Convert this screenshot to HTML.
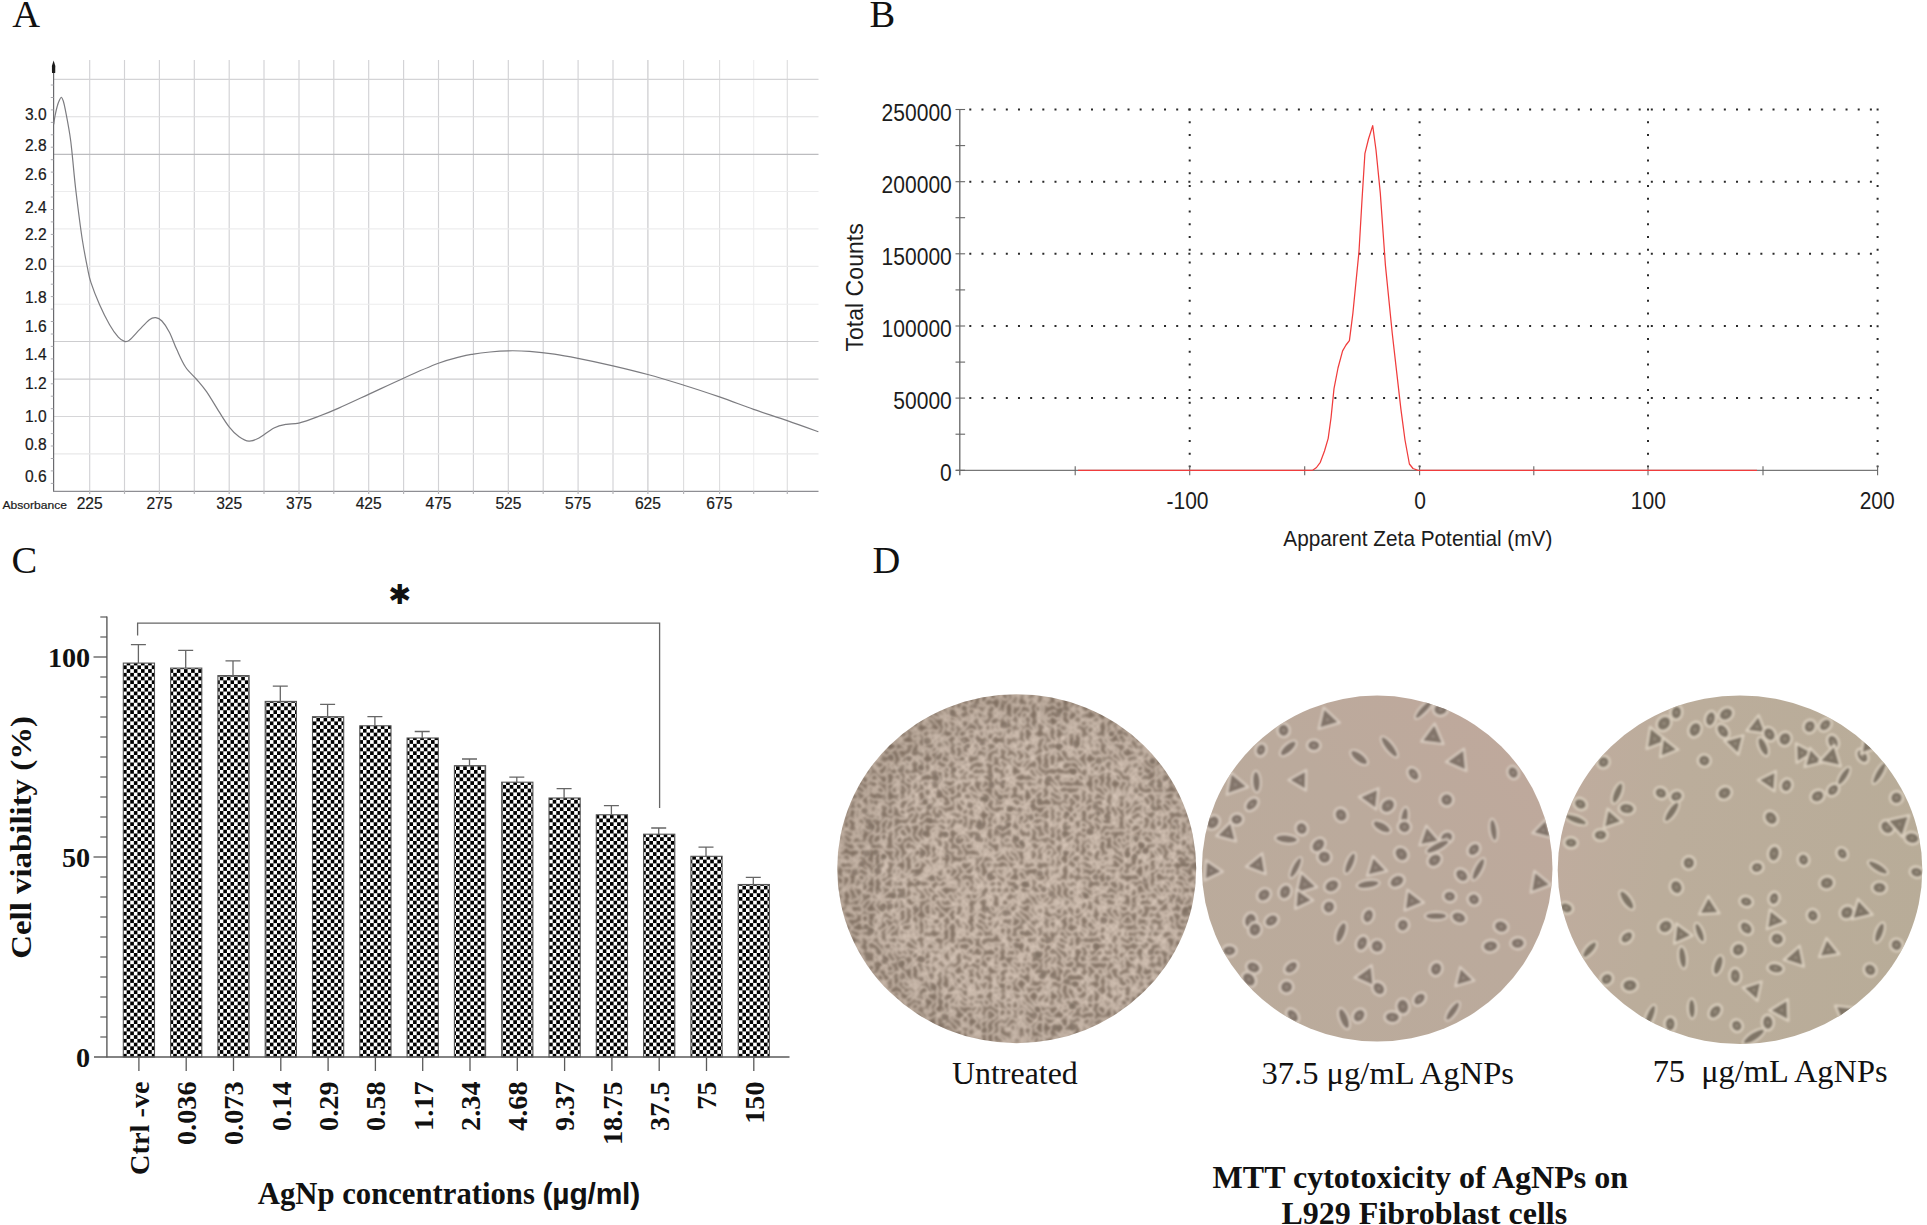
<!DOCTYPE html>
<html><head><meta charset="utf-8"><title>Figure</title>
<style>
html,body{margin:0;padding:0;background:#fff;}
body{width:1927px;height:1225px;overflow:hidden;font-family:"Liberation Serif",serif;}
svg{display:block}
</style></head><body>
<svg width="1927" height="1225" viewBox="0 0 1927 1225">
<defs>
<filter id="blurA" x="-2%" y="-2%" width="104%" height="104%"><feGaussianBlur stdDeviation="0.45"/></filter>
<filter id="blurT" x="-5%" y="-20%" width="110%" height="140%"><feGaussianBlur stdDeviation="0.8"/></filter>
<pattern id="chk" x="123.1" y="882.03" width="7.16" height="7.47" patternUnits="userSpaceOnUse">
<rect width="7.16" height="7.47" fill="#fff"/>
<rect x="0" y="0" width="3.58" height="3.735" fill="#000"/><rect x="3.58" y="3.735" width="3.58" height="3.735" fill="#000"/>
</pattern>
<filter id="blurC" x="-5%" y="-5%" width="110%" height="110%"><feGaussianBlur stdDeviation="0.5"/></filter>
<clipPath id="c1"><ellipse cx="1016.7" cy="868.7" rx="179.5" ry="174.5"/></clipPath>
<clipPath id="c2"><ellipse cx="1377.2" cy="868.6" rx="175.3" ry="173"/></clipPath>
<clipPath id="c3"><ellipse cx="1740" cy="869.8" rx="182.3" ry="174.3"/></clipPath>
<filter id="tex1" x="0" y="0" width="100%" height="100%" color-interpolation-filters="sRGB">
<feTurbulence type="turbulence" baseFrequency="0.16" numOctaves="1" seed="3" result="n"/>
<feColorMatrix in="n" type="matrix" values="1 0 0 0 0  1 0 0 0 0  1 0 0 0 0  0 0 0 0 1"/>
<feComponentTransfer><feFuncR type="table" tableValues="0.845 0.745 0.655 0.595 0.56 0.535 0.52 0.51 0.51 0.51 0.51"/><feFuncG type="table" tableValues="0.78 0.68 0.59 0.53 0.495 0.47 0.455 0.445 0.445 0.445 0.445"/><feFuncB type="table" tableValues="0.725 0.625 0.535 0.475 0.44 0.415 0.40 0.39 0.39 0.39 0.39"/></feComponentTransfer>
<feGaussianBlur stdDeviation="0.8"/>
</filter>
<filter id="blurCell" x="-10%" y="-10%" width="120%" height="120%"><feGaussianBlur stdDeviation="1.05"/></filter>
<linearGradient id="g2" x1="0" y1="1" x2="1" y2="0"><stop offset="0" stop-color="#baab9b"/><stop offset="0.55" stop-color="#bbaa9c"/><stop offset="1" stop-color="#c0a89c"/></linearGradient>
<linearGradient id="g3" x1="0" y1="0.4" x2="1" y2="0.6"><stop offset="0" stop-color="#bfac9e"/><stop offset="0.3" stop-color="#bbad9b"/><stop offset="1" stop-color="#b8ac98"/></linearGradient>
<radialGradient id="g1" cx="0.54" cy="0.52" r="0.5"><stop offset="0" stop-color="#000" stop-opacity="0"/><stop offset="0.8" stop-color="#000" stop-opacity="0.01"/><stop offset="1" stop-color="#3a2a1a" stop-opacity="0.09"/></radialGradient>

</defs>
<rect width="1927" height="1225" fill="#fff"/>
<g font-family="Liberation Serif, serif" font-size="38.5" fill="#111">
<text x="12.3" y="27">A</text>
<text x="869.5" y="26.5">B</text>
<text x="11.5" y="572.5">C</text>
<text x="872.5" y="572.5">D</text>
</g>
<g id="pA" font-family="Liberation Sans, sans-serif" fill="#1a1a1a" stroke="#1a1a1a" stroke-width="0.2">
<g filter="url(#blurA)">
<line x1="89.7" y1="60" x2="89.7" y2="491" stroke="#d2d2d5" stroke-width="1.15"/>
<line x1="124.5" y1="60" x2="124.5" y2="491" stroke="#d2d2d5" stroke-width="1.15"/>
<line x1="159.4" y1="60" x2="159.4" y2="491" stroke="#d2d2d5" stroke-width="1.15"/>
<line x1="194.3" y1="60" x2="194.3" y2="491" stroke="#d2d2d5" stroke-width="1.15"/>
<line x1="229.2" y1="60" x2="229.2" y2="491" stroke="#d2d2d5" stroke-width="1.15"/>
<line x1="264" y1="60" x2="264" y2="491" stroke="#d2d2d5" stroke-width="1.15"/>
<line x1="299" y1="60" x2="299" y2="491" stroke="#d2d2d5" stroke-width="1.15"/>
<line x1="333.8" y1="60" x2="333.8" y2="491" stroke="#d2d2d5" stroke-width="1.15"/>
<line x1="368.7" y1="60" x2="368.7" y2="491" stroke="#d2d2d5" stroke-width="1.15"/>
<line x1="403.6" y1="60" x2="403.6" y2="491" stroke="#d2d2d5" stroke-width="1.15"/>
<line x1="438.5" y1="60" x2="438.5" y2="491" stroke="#d2d2d5" stroke-width="1.15"/>
<line x1="473.4" y1="60" x2="473.4" y2="491" stroke="#d2d2d5" stroke-width="1.15"/>
<line x1="508.3" y1="60" x2="508.3" y2="491" stroke="#d2d2d5" stroke-width="1.15"/>
<line x1="543.2" y1="60" x2="543.2" y2="491" stroke="#d2d2d5" stroke-width="1.15"/>
<line x1="578.1" y1="60" x2="578.1" y2="491" stroke="#d2d2d5" stroke-width="1.15"/>
<line x1="613" y1="60" x2="613" y2="491" stroke="#d2d2d5" stroke-width="1.15"/>
<line x1="647.9" y1="60" x2="647.9" y2="491" stroke="#c8c8cb" stroke-width="1.15"/>
<line x1="683.6" y1="60" x2="683.6" y2="491" stroke="#dededf" stroke-width="1.15"/>
<line x1="719.6" y1="60" x2="719.6" y2="491" stroke="#dededf" stroke-width="1.15"/>
<line x1="753.7" y1="60" x2="753.7" y2="491" stroke="#eeeeef" stroke-width="1.15"/>
<line x1="787.3" y1="60" x2="787.3" y2="491" stroke="#dededf" stroke-width="1.15"/>
<line x1="53.5" y1="79.3" x2="818.5" y2="79.3" stroke="#d4d4d6" stroke-width="1.15"/>
<line x1="53.5" y1="116.7" x2="818.5" y2="116.7" stroke="#dcdcde" stroke-width="1.15"/>
<line x1="53.5" y1="154.4" x2="818.5" y2="154.4" stroke="#bcbcbf" stroke-width="1.15"/>
<line x1="53.5" y1="191.5" x2="818.5" y2="191.5" stroke="#ececed" stroke-width="1.15"/>
<line x1="53.5" y1="228.8" x2="818.5" y2="228.8" stroke="#ededee" stroke-width="1.15"/>
<line x1="53.5" y1="266.3" x2="818.5" y2="266.3" stroke="#eaeaeb" stroke-width="1.15"/>
<line x1="53.5" y1="304.2" x2="818.5" y2="304.2" stroke="#ececed" stroke-width="1.15"/>
<line x1="53.5" y1="341.5" x2="818.5" y2="341.5" stroke="#cdcdcf" stroke-width="1.15"/>
<line x1="53.5" y1="379.1" x2="818.5" y2="379.1" stroke="#cdcdcf" stroke-width="1.15"/>
<line x1="53.5" y1="416.5" x2="818.5" y2="416.5" stroke="#d6d6d8" stroke-width="1.15"/>
<line x1="53.5" y1="453.8" x2="818.5" y2="453.8" stroke="#e8e8e9" stroke-width="1.15"/>
<line x1="53.6" y1="66" x2="53.6" y2="491.5" stroke="#6a6a6e" stroke-width="1.2"/>
<line x1="53" y1="491.3" x2="818.5" y2="491.3" stroke="#8e8e93" stroke-width="1.25"/>
<path d="M53.6 60.5 L55.3 66 L55.2 73 L52 73 L51.9 66 Z" fill="#1a1a1a" stroke="none"/>
<line x1="50.8" y1="85.0" x2="53.5" y2="85.0" stroke="#aaaab0" stroke-width="1"/>
<line x1="50.8" y1="97.5" x2="53.5" y2="97.5" stroke="#aaaab0" stroke-width="1"/>
<line x1="50.8" y1="109.9" x2="53.5" y2="109.9" stroke="#aaaab0" stroke-width="1"/>
<line x1="50.8" y1="122.4" x2="53.5" y2="122.4" stroke="#aaaab0" stroke-width="1"/>
<line x1="50.8" y1="134.8" x2="53.5" y2="134.8" stroke="#aaaab0" stroke-width="1"/>
<line x1="50.8" y1="147.2" x2="53.5" y2="147.2" stroke="#aaaab0" stroke-width="1"/>
<line x1="50.8" y1="159.7" x2="53.5" y2="159.7" stroke="#aaaab0" stroke-width="1"/>
<line x1="50.8" y1="172.1" x2="53.5" y2="172.1" stroke="#aaaab0" stroke-width="1"/>
<line x1="50.8" y1="184.6" x2="53.5" y2="184.6" stroke="#aaaab0" stroke-width="1"/>
<line x1="50.8" y1="197.0" x2="53.5" y2="197.0" stroke="#aaaab0" stroke-width="1"/>
<line x1="50.8" y1="209.5" x2="53.5" y2="209.5" stroke="#aaaab0" stroke-width="1"/>
<line x1="50.8" y1="221.9" x2="53.5" y2="221.9" stroke="#aaaab0" stroke-width="1"/>
<line x1="50.8" y1="234.4" x2="53.5" y2="234.4" stroke="#aaaab0" stroke-width="1"/>
<line x1="50.8" y1="246.8" x2="53.5" y2="246.8" stroke="#aaaab0" stroke-width="1"/>
<line x1="50.8" y1="259.3" x2="53.5" y2="259.3" stroke="#aaaab0" stroke-width="1"/>
<line x1="50.8" y1="271.7" x2="53.5" y2="271.7" stroke="#aaaab0" stroke-width="1"/>
<line x1="50.8" y1="284.2" x2="53.5" y2="284.2" stroke="#aaaab0" stroke-width="1"/>
<line x1="50.8" y1="296.6" x2="53.5" y2="296.6" stroke="#aaaab0" stroke-width="1"/>
<line x1="50.8" y1="309.1" x2="53.5" y2="309.1" stroke="#aaaab0" stroke-width="1"/>
<line x1="50.8" y1="321.5" x2="53.5" y2="321.5" stroke="#aaaab0" stroke-width="1"/>
<line x1="50.8" y1="334.0" x2="53.5" y2="334.0" stroke="#aaaab0" stroke-width="1"/>
<line x1="50.8" y1="346.4" x2="53.5" y2="346.4" stroke="#aaaab0" stroke-width="1"/>
<line x1="50.8" y1="358.9" x2="53.5" y2="358.9" stroke="#aaaab0" stroke-width="1"/>
<line x1="50.8" y1="371.3" x2="53.5" y2="371.3" stroke="#aaaab0" stroke-width="1"/>
<line x1="50.8" y1="383.8" x2="53.5" y2="383.8" stroke="#aaaab0" stroke-width="1"/>
<line x1="50.8" y1="396.2" x2="53.5" y2="396.2" stroke="#aaaab0" stroke-width="1"/>
<line x1="50.8" y1="408.7" x2="53.5" y2="408.7" stroke="#aaaab0" stroke-width="1"/>
<line x1="50.8" y1="421.1" x2="53.5" y2="421.1" stroke="#aaaab0" stroke-width="1"/>
<line x1="50.8" y1="433.6" x2="53.5" y2="433.6" stroke="#aaaab0" stroke-width="1"/>
<line x1="50.8" y1="446.0" x2="53.5" y2="446.0" stroke="#aaaab0" stroke-width="1"/>
<line x1="50.8" y1="458.5" x2="53.5" y2="458.5" stroke="#aaaab0" stroke-width="1"/>
<line x1="50.8" y1="470.9" x2="53.5" y2="470.9" stroke="#aaaab0" stroke-width="1"/>
<line x1="50.8" y1="483.4" x2="53.5" y2="483.4" stroke="#aaaab0" stroke-width="1"/>
<line x1="89.7" y1="491" x2="89.7" y2="494" stroke="#b4b4b8" stroke-width="1.2"/>
<line x1="124.5" y1="491" x2="124.5" y2="494" stroke="#b4b4b8" stroke-width="1.2"/>
<line x1="159.4" y1="491" x2="159.4" y2="494" stroke="#b4b4b8" stroke-width="1.2"/>
<line x1="194.3" y1="491" x2="194.3" y2="494" stroke="#b4b4b8" stroke-width="1.2"/>
<line x1="229.2" y1="491" x2="229.2" y2="494" stroke="#b4b4b8" stroke-width="1.2"/>
<line x1="264" y1="491" x2="264" y2="494" stroke="#b4b4b8" stroke-width="1.2"/>
<line x1="299" y1="491" x2="299" y2="494" stroke="#b4b4b8" stroke-width="1.2"/>
<line x1="333.8" y1="491" x2="333.8" y2="494" stroke="#b4b4b8" stroke-width="1.2"/>
<line x1="368.7" y1="491" x2="368.7" y2="494" stroke="#b4b4b8" stroke-width="1.2"/>
<line x1="403.6" y1="491" x2="403.6" y2="494" stroke="#b4b4b8" stroke-width="1.2"/>
<line x1="438.5" y1="491" x2="438.5" y2="494" stroke="#b4b4b8" stroke-width="1.2"/>
<line x1="473.4" y1="491" x2="473.4" y2="494" stroke="#b4b4b8" stroke-width="1.2"/>
<line x1="508.3" y1="491" x2="508.3" y2="494" stroke="#b4b4b8" stroke-width="1.2"/>
<line x1="543.2" y1="491" x2="543.2" y2="494" stroke="#b4b4b8" stroke-width="1.2"/>
<line x1="578.1" y1="491" x2="578.1" y2="494" stroke="#b4b4b8" stroke-width="1.2"/>
<line x1="613" y1="491" x2="613" y2="494" stroke="#b4b4b8" stroke-width="1.2"/>
<line x1="647.9" y1="491" x2="647.9" y2="494" stroke="#b4b4b8" stroke-width="1.2"/>
<line x1="683.6" y1="491" x2="683.6" y2="494" stroke="#b4b4b8" stroke-width="1.2"/>
<line x1="719.6" y1="491" x2="719.6" y2="494" stroke="#b4b4b8" stroke-width="1.2"/>
<line x1="753.7" y1="491" x2="753.7" y2="494" stroke="#b4b4b8" stroke-width="1.2"/>
<line x1="787.3" y1="491" x2="787.3" y2="494" stroke="#b4b4b8" stroke-width="1.2"/>
<path d="M53.7 124.5 C53.9 123.1 54.4 119.1 55.0 116.0 C55.6 112.9 56.5 108.7 57.3 106.0 C58.0 103.3 58.8 101.5 59.5 100.0 C60.2 98.5 60.8 97.1 61.4 97.3 C62.0 97.5 62.6 99.0 63.3 101.0 C63.9 103.0 64.2 104.0 65.3 109.6 C66.4 115.2 68.6 127.0 69.8 134.5 C71.0 142.0 71.2 144.8 72.2 154.4 C73.2 164.0 74.3 177.7 76.0 191.8 C77.7 205.9 80.3 226.6 82.2 239.0 C84.1 251.4 85.8 259.3 87.2 266.5 C88.7 273.7 88.8 276.0 90.9 282.4 C93.0 288.8 96.5 297.8 99.6 304.8 C102.7 311.9 106.5 319.3 109.6 324.7 C112.7 330.1 115.8 334.4 118.3 337.2 C120.8 340.0 122.6 340.9 124.5 341.4 C126.4 341.9 127.0 342.1 129.5 340.1 C132.0 338.2 136.2 333.1 139.5 329.7 C142.8 326.3 146.7 321.7 149.4 319.7 C152.1 317.7 153.6 317.5 155.7 317.7 C157.8 317.9 159.6 318.6 161.9 321.0 C164.2 323.4 166.9 327.4 169.4 332.2 C171.9 337.0 174.1 343.8 176.8 349.6 C179.5 355.4 182.2 362.0 185.5 367.0 C188.8 372.0 193.2 375.4 196.7 379.5 C200.2 383.6 202.9 386.5 206.7 391.9 C210.4 397.3 215.5 406.1 219.2 411.9 C222.9 417.7 225.8 422.6 229.1 426.8 C232.4 431.0 235.8 434.4 239.1 436.8 C242.4 439.2 245.7 441.0 249.0 441.2 C252.3 441.4 254.8 440.2 259.0 438.0 C263.2 435.8 269.4 430.3 274.0 428.0 C278.6 425.7 282.2 425.1 286.4 424.3 C290.5 423.5 293.5 424.4 298.9 423.1 C304.3 421.8 312.2 418.8 318.8 416.3 C325.4 413.8 330.4 411.8 338.7 408.1 C347.0 404.5 357.8 399.4 368.6 394.4 C379.4 389.4 391.9 383.4 403.5 378.2 C415.1 373.0 428.8 366.9 438.4 363.3 C447.9 359.7 454.9 358.1 460.8 356.6 C466.7 355.1 468.6 354.9 473.5 354.1 C478.4 353.3 484.2 352.6 490.0 352.0 C495.8 351.4 501.7 350.9 508.3 350.8 C514.9 350.7 521.8 350.8 529.5 351.3 C537.2 351.9 546.3 352.9 554.4 354.1 C562.5 355.3 568.2 356.4 578.0 358.3 C587.8 360.2 601.3 363.1 612.9 365.8 C624.5 368.5 636.0 371.3 647.8 374.5 C659.6 377.7 671.9 381.5 683.9 385.2 C695.9 388.9 707.9 392.9 719.5 396.9 C731.1 400.9 742.3 405.4 753.6 409.4 C764.9 413.3 776.4 416.9 787.2 420.6 C798.0 424.3 813.2 429.9 818.4 431.8" fill="none" stroke="#7c7c80" stroke-width="1.2" stroke-linejoin="round"/>
</g>
<g font-size="15.6" text-anchor="end">
<text x="46.6" y="119.6">3.0</text>
<text x="46.6" y="151.4">2.8</text>
<text x="46.6" y="180">2.6</text>
<text x="46.6" y="212.6">2.4</text>
<text x="46.6" y="240.2">2.2</text>
<text x="46.6" y="270.2">2.0</text>
<text x="46.6" y="303">1.8</text>
<text x="46.6" y="332.4">1.6</text>
<text x="46.6" y="360.3">1.4</text>
<text x="46.6" y="389.4">1.2</text>
<text x="46.6" y="422">1.0</text>
<text x="46.6" y="450.4">0.8</text>
<text x="46.6" y="481.7">0.6</text>
</g>
<g font-size="15.6" text-anchor="middle">
<text x="89.7" y="508.6">225</text>
<text x="159.4" y="508.6">275</text>
<text x="229.2" y="508.6">325</text>
<text x="299" y="508.6">375</text>
<text x="368.7" y="508.6">425</text>
<text x="438.5" y="508.6">475</text>
<text x="508.4" y="508.6">525</text>
<text x="578.1" y="508.6">575</text>
<text x="647.9" y="508.6">625</text>
<text x="719.3" y="508.6">675</text>
</g>
<text x="2.5" y="509.3" font-size="11.2" textLength="64.5" lengthAdjust="spacingAndGlyphs">Absorbance</text>
</g>
<g id="pB" font-family="Liberation Sans, sans-serif" fill="#1c1c1c">
<line x1="969.3" y1="109.5" x2="1878.8" y2="109.5" stroke="#2a2a2a" stroke-width="2.0" stroke-dasharray="2.0 10.17"/>
<line x1="969.3" y1="181.7" x2="1878.8" y2="181.7" stroke="#2a2a2a" stroke-width="2.0" stroke-dasharray="2.0 10.17"/>
<line x1="969.3" y1="253.8" x2="1878.8" y2="253.8" stroke="#2a2a2a" stroke-width="2.0" stroke-dasharray="2.0 10.17"/>
<line x1="969.3" y1="326" x2="1878.8" y2="326" stroke="#2a2a2a" stroke-width="2.0" stroke-dasharray="2.0 10.17"/>
<line x1="969.3" y1="398.1" x2="1878.8" y2="398.1" stroke="#2a2a2a" stroke-width="2.0" stroke-dasharray="2.0 10.17"/>
<line x1="1189.7" y1="108.4" x2="1189.7" y2="467.3" stroke="#2a2a2a" stroke-width="2.0" stroke-dasharray="2.0 10.75"/>
<line x1="1419.6" y1="108.4" x2="1419.6" y2="467.3" stroke="#2a2a2a" stroke-width="2.0" stroke-dasharray="2.0 10.75"/>
<line x1="1648" y1="108.4" x2="1648" y2="467.3" stroke="#2a2a2a" stroke-width="2.0" stroke-dasharray="2.0 10.75"/>
<line x1="1877.6" y1="108.4" x2="1877.6" y2="467.3" stroke="#2a2a2a" stroke-width="2.0" stroke-dasharray="2.0 10.75"/>
<line x1="959.8" y1="109.5" x2="959.8" y2="475.3" stroke="#666" stroke-width="1.3"/>
<line x1="955.8" y1="470.3" x2="1877.6" y2="470.3" stroke="#777" stroke-width="1.3"/>
<line x1="955.5" y1="109.5" x2="965.0999999999999" y2="109.5" stroke="#666" stroke-width="1.1"/>
<line x1="955.5" y1="145.6" x2="965.0999999999999" y2="145.6" stroke="#666" stroke-width="1.1"/>
<line x1="955.5" y1="181.7" x2="965.0999999999999" y2="181.7" stroke="#666" stroke-width="1.1"/>
<line x1="955.5" y1="217.7" x2="965.0999999999999" y2="217.7" stroke="#666" stroke-width="1.1"/>
<line x1="955.5" y1="253.8" x2="965.0999999999999" y2="253.8" stroke="#666" stroke-width="1.1"/>
<line x1="955.5" y1="289.9" x2="965.0999999999999" y2="289.9" stroke="#666" stroke-width="1.1"/>
<line x1="955.5" y1="326.0" x2="965.0999999999999" y2="326.0" stroke="#666" stroke-width="1.1"/>
<line x1="955.5" y1="362.1" x2="965.0999999999999" y2="362.1" stroke="#666" stroke-width="1.1"/>
<line x1="955.5" y1="398.1" x2="965.0999999999999" y2="398.1" stroke="#666" stroke-width="1.1"/>
<line x1="955.5" y1="434.2" x2="965.0999999999999" y2="434.2" stroke="#666" stroke-width="1.1"/>
<line x1="955.5" y1="470.3" x2="965.0999999999999" y2="470.3" stroke="#666" stroke-width="1.1"/>
<line x1="1075.2" y1="466.3" x2="1075.2" y2="475.3" stroke="#666" stroke-width="1.1"/>
<line x1="1189.7" y1="466.3" x2="1189.7" y2="475.3" stroke="#666" stroke-width="1.1"/>
<line x1="1304.7" y1="466.3" x2="1304.7" y2="475.3" stroke="#666" stroke-width="1.1"/>
<line x1="1419.6" y1="466.3" x2="1419.6" y2="475.3" stroke="#666" stroke-width="1.1"/>
<line x1="1533.8" y1="466.3" x2="1533.8" y2="475.3" stroke="#666" stroke-width="1.1"/>
<line x1="1648" y1="466.3" x2="1648" y2="475.3" stroke="#666" stroke-width="1.1"/>
<line x1="1763" y1="466.3" x2="1763" y2="475.3" stroke="#666" stroke-width="1.1"/>
<line x1="1877.6" y1="466.3" x2="1877.6" y2="475.3" stroke="#666" stroke-width="1.1"/>
<path d="M1078 470.3 L1310 470.3 L1312.7 470.2 L1316.5 467.5 L1320.3 462.3 L1324.5 451 L1328.2 438.3 L1331 418 L1334 388.6 L1338 368 L1342.6 350.9 L1346 345 L1349.4 340.6 L1352.9 313.1 L1359 251.4 L1362 200 L1364.9 153.7 L1368.5 139 L1372.7 125.6 L1376 150 L1380.3 193.1 L1385.4 265.1 L1392.3 333.7 L1400.9 409.1 L1405 440 L1409.4 464 L1413 468.5 L1418 470.3 L1757 470.3" fill="none" stroke="#f03c3c" stroke-width="1.25" stroke-linejoin="round"/>
<text transform="translate(951.8 120.5) scale(0.895 1)" font-size="23.5" text-anchor="end">250000</text>
<text transform="translate(951.8 192.7) scale(0.895 1)" font-size="23.5" text-anchor="end">200000</text>
<text transform="translate(951.8 264.8) scale(0.895 1)" font-size="23.5" text-anchor="end">150000</text>
<text transform="translate(951.8 337.0) scale(0.895 1)" font-size="23.5" text-anchor="end">100000</text>
<text transform="translate(951.8 409.1) scale(0.895 1)" font-size="23.5" text-anchor="end">50000</text>
<text transform="translate(951.8 481.3) scale(0.895 1)" font-size="23.5" text-anchor="end">0</text>
<text transform="translate(1187.5 508.8) scale(0.895 1)" font-size="23.5" text-anchor="middle">-100</text>
<text transform="translate(1420.0 508.8) scale(0.895 1)" font-size="23.5" text-anchor="middle">0</text>
<text transform="translate(1648.4 508.8) scale(0.895 1)" font-size="23.5" text-anchor="middle">100</text>
<text transform="translate(1877.2 508.8) scale(0.895 1)" font-size="23.5" text-anchor="middle">200</text>
<text transform="translate(1417.8 545.8) scale(0.912 1)" font-size="22.8" text-anchor="middle">Apparent Zeta Potential (mV)</text>
<text transform="translate(863.2 287.4) rotate(-90)" font-size="23.1" text-anchor="middle">Total Counts</text>
</g>
<g id="pC" font-family="Liberation Serif, serif" font-weight="bold" fill="#111">
<g filter="url(#blurC)">
<rect x="123.3" y="663.1" width="31.2" height="393.9" fill="url(#chk)" stroke="#555" stroke-width="1.1"/>
<path d="M138.4 663.1 V644.7 M130.9 644.7 H145.9" stroke="#666" stroke-width="1.3" fill="none"/>
<rect x="170.6" y="668.1" width="31.2" height="388.9" fill="url(#chk)" stroke="#555" stroke-width="1.1"/>
<path d="M185.7 668.1 V650.4 M178.2 650.4 H193.2" stroke="#666" stroke-width="1.3" fill="none"/>
<rect x="217.9" y="675.6" width="31.2" height="381.4" fill="url(#chk)" stroke="#555" stroke-width="1.1"/>
<path d="M233.0 675.6 V660.8 M225.5 660.8 H240.5" stroke="#666" stroke-width="1.3" fill="none"/>
<rect x="265.2" y="701.4" width="31.2" height="355.6" fill="url(#chk)" stroke="#555" stroke-width="1.1"/>
<path d="M280.3 701.4 V686.1 M272.8 686.1 H287.8" stroke="#666" stroke-width="1.3" fill="none"/>
<rect x="312.5" y="716.7" width="31.2" height="340.3" fill="url(#chk)" stroke="#555" stroke-width="1.1"/>
<path d="M327.6 716.7 V704.3 M320.1 704.3 H335.1" stroke="#666" stroke-width="1.3" fill="none"/>
<rect x="359.8" y="725.8" width="31.2" height="331.2" fill="url(#chk)" stroke="#555" stroke-width="1.1"/>
<path d="M374.9 725.8 V716.7 M367.4 716.7 H382.4" stroke="#666" stroke-width="1.3" fill="none"/>
<rect x="407.1" y="738.0" width="31.2" height="319.0" fill="url(#chk)" stroke="#555" stroke-width="1.1"/>
<path d="M422.2 738.0 V731.5 M414.7 731.5 H429.7" stroke="#666" stroke-width="1.3" fill="none"/>
<rect x="454.4" y="765.7" width="31.2" height="291.3" fill="url(#chk)" stroke="#555" stroke-width="1.1"/>
<path d="M469.5 765.7 V759 M462.0 759 H477.0" stroke="#666" stroke-width="1.3" fill="none"/>
<rect x="501.7" y="782.2" width="31.2" height="274.8" fill="url(#chk)" stroke="#555" stroke-width="1.1"/>
<path d="M516.8 782.2 V777.2 M509.3 777.2 H524.3" stroke="#666" stroke-width="1.3" fill="none"/>
<rect x="549.0" y="798" width="31.2" height="259.0" fill="url(#chk)" stroke="#555" stroke-width="1.1"/>
<path d="M564.1 798 V788.7 M556.6 788.7 H571.6" stroke="#666" stroke-width="1.3" fill="none"/>
<rect x="596.3" y="814.8" width="31.2" height="242.2" fill="url(#chk)" stroke="#555" stroke-width="1.1"/>
<path d="M611.4 814.8 V805.7 M603.9 805.7 H618.9" stroke="#666" stroke-width="1.3" fill="none"/>
<rect x="643.6" y="834.2" width="31.2" height="222.8" fill="url(#chk)" stroke="#555" stroke-width="1.1"/>
<path d="M658.7 834.2 V828 M651.2 828 H666.2" stroke="#666" stroke-width="1.3" fill="none"/>
<rect x="690.9" y="856.3" width="31.2" height="200.7" fill="url(#chk)" stroke="#555" stroke-width="1.1"/>
<path d="M706.0 856.3 V847.1 M698.5 847.1 H713.5" stroke="#666" stroke-width="1.3" fill="none"/>
<rect x="738.2" y="884.5" width="31.2" height="172.5" fill="url(#chk)" stroke="#555" stroke-width="1.1"/>
<path d="M753.3 884.5 V877.4 M745.8 877.4 H760.8" stroke="#666" stroke-width="1.3" fill="none"/>
</g>
<line x1="106.9" y1="616.5" x2="106.9" y2="1057.6" stroke="#5a5a5a" stroke-width="1.4"/>
<line x1="94" y1="1057" x2="789.5" y2="1057" stroke="#5a5a5a" stroke-width="1.4"/>
<line x1="100.3" y1="1037" x2="107" y2="1037" stroke="#5a5a5a" stroke-width="1.2"/>
<line x1="100.3" y1="1017" x2="107" y2="1017" stroke="#5a5a5a" stroke-width="1.2"/>
<line x1="100.3" y1="997" x2="107" y2="997" stroke="#5a5a5a" stroke-width="1.2"/>
<line x1="100.3" y1="977" x2="107" y2="977" stroke="#5a5a5a" stroke-width="1.2"/>
<line x1="100.3" y1="957" x2="107" y2="957" stroke="#5a5a5a" stroke-width="1.2"/>
<line x1="100.3" y1="937" x2="107" y2="937" stroke="#5a5a5a" stroke-width="1.2"/>
<line x1="100.3" y1="917" x2="107" y2="917" stroke="#5a5a5a" stroke-width="1.2"/>
<line x1="100.3" y1="897" x2="107" y2="897" stroke="#5a5a5a" stroke-width="1.2"/>
<line x1="100.3" y1="877" x2="107" y2="877" stroke="#5a5a5a" stroke-width="1.2"/>
<line x1="93.5" y1="857" x2="107" y2="857" stroke="#5a5a5a" stroke-width="1.3"/>
<line x1="100.3" y1="837" x2="107" y2="837" stroke="#5a5a5a" stroke-width="1.2"/>
<line x1="100.3" y1="817" x2="107" y2="817" stroke="#5a5a5a" stroke-width="1.2"/>
<line x1="100.3" y1="797" x2="107" y2="797" stroke="#5a5a5a" stroke-width="1.2"/>
<line x1="100.3" y1="777" x2="107" y2="777" stroke="#5a5a5a" stroke-width="1.2"/>
<line x1="100.3" y1="757" x2="107" y2="757" stroke="#5a5a5a" stroke-width="1.2"/>
<line x1="100.3" y1="737" x2="107" y2="737" stroke="#5a5a5a" stroke-width="1.2"/>
<line x1="100.3" y1="717" x2="107" y2="717" stroke="#5a5a5a" stroke-width="1.2"/>
<line x1="100.3" y1="697" x2="107" y2="697" stroke="#5a5a5a" stroke-width="1.2"/>
<line x1="100.3" y1="677" x2="107" y2="677" stroke="#5a5a5a" stroke-width="1.2"/>
<line x1="93.5" y1="657" x2="107" y2="657" stroke="#5a5a5a" stroke-width="1.3"/>
<line x1="100.3" y1="637" x2="107" y2="637" stroke="#5a5a5a" stroke-width="1.2"/>
<line x1="100.3" y1="617" x2="107" y2="617" stroke="#5a5a5a" stroke-width="1.2"/>
<line x1="138.9" y1="1057" x2="138.9" y2="1071" stroke="#5a5a5a" stroke-width="1.3"/>
<line x1="186.2" y1="1057" x2="186.2" y2="1071" stroke="#5a5a5a" stroke-width="1.3"/>
<line x1="233.5" y1="1057" x2="233.5" y2="1071" stroke="#5a5a5a" stroke-width="1.3"/>
<line x1="280.8" y1="1057" x2="280.8" y2="1071" stroke="#5a5a5a" stroke-width="1.3"/>
<line x1="328.1" y1="1057" x2="328.1" y2="1071" stroke="#5a5a5a" stroke-width="1.3"/>
<line x1="375.4" y1="1057" x2="375.4" y2="1071" stroke="#5a5a5a" stroke-width="1.3"/>
<line x1="422.7" y1="1057" x2="422.7" y2="1071" stroke="#5a5a5a" stroke-width="1.3"/>
<line x1="470.0" y1="1057" x2="470.0" y2="1071" stroke="#5a5a5a" stroke-width="1.3"/>
<line x1="517.3" y1="1057" x2="517.3" y2="1071" stroke="#5a5a5a" stroke-width="1.3"/>
<line x1="564.6" y1="1057" x2="564.6" y2="1071" stroke="#5a5a5a" stroke-width="1.3"/>
<line x1="611.9" y1="1057" x2="611.9" y2="1071" stroke="#5a5a5a" stroke-width="1.3"/>
<line x1="659.2" y1="1057" x2="659.2" y2="1071" stroke="#5a5a5a" stroke-width="1.3"/>
<line x1="706.5" y1="1057" x2="706.5" y2="1071" stroke="#5a5a5a" stroke-width="1.3"/>
<line x1="753.8" y1="1057" x2="753.8" y2="1071" stroke="#5a5a5a" stroke-width="1.3"/>
<path d="M137.6 635.5 V623.2 H659.6 V808" fill="none" stroke="#666" stroke-width="1.3"/>
<text x="90.2" y="667.4" font-size="28.2" text-anchor="end">100</text>
<text x="90.2" y="867.4" font-size="28.2" text-anchor="end">50</text>
<text x="90.2" y="1067.4" font-size="28.2" text-anchor="end">0</text>
<text transform="translate(148.7 1081.4) rotate(-90)" font-size="28.3" text-anchor="end">Ctrl -ve</text>
<text transform="translate(196.0 1081.4) rotate(-90)" font-size="28.3" text-anchor="end">0.036</text>
<text transform="translate(243.3 1081.4) rotate(-90)" font-size="28.3" text-anchor="end">0.073</text>
<text transform="translate(290.6 1081.4) rotate(-90)" font-size="28.3" text-anchor="end">0.14</text>
<text transform="translate(337.9 1081.4) rotate(-90)" font-size="28.3" text-anchor="end">0.29</text>
<text transform="translate(385.2 1081.4) rotate(-90)" font-size="28.3" text-anchor="end">0.58</text>
<text transform="translate(432.5 1081.4) rotate(-90)" font-size="28.3" text-anchor="end">1.17</text>
<text transform="translate(479.8 1081.4) rotate(-90)" font-size="28.3" text-anchor="end">2.34</text>
<text transform="translate(527.1 1081.4) rotate(-90)" font-size="28.3" text-anchor="end">4.68</text>
<text transform="translate(574.4 1081.4) rotate(-90)" font-size="28.3" text-anchor="end">9.37</text>
<text transform="translate(621.7 1081.4) rotate(-90)" font-size="28.3" text-anchor="end">18.75</text>
<text transform="translate(669.0 1081.4) rotate(-90)" font-size="28.3" text-anchor="end">37.5</text>
<text transform="translate(716.3 1081.4) rotate(-90)" font-size="28.3" text-anchor="end">75</text>
<text transform="translate(763.6 1081.4) rotate(-90)" font-size="28.3" text-anchor="end">150</text>
<text transform="translate(30.7 837.4) rotate(-90) scale(1.085 1)" font-size="30.3" text-anchor="middle">Cell viability (%)</text>
<text x="257.8" y="1204" font-size="30.7">AgNp concentrations <tspan font-family="Liberation Sans, sans-serif" font-size="30" letter-spacing="-0.2">(µg/ml)</tspan></text>
<text x="399.4" y="604.3" font-family="DejaVu Sans, sans-serif" font-size="27.5" text-anchor="middle">✱</text>
</g>
<g id="pD">
<g clip-path="url(#c1)"><rect x="836" y="693" width="362" height="352" filter="url(#tex1)"/><rect x="836" y="693" width="362" height="352" fill="url(#g1)"/>
<g filter="url(#blurCell)" fill="#7d6f62" fill-opacity="0.75">
<circle cx="890.0" cy="906.6" r="3.3"/>
<circle cx="893.4" cy="894.9" r="2.9"/>
<circle cx="1067.3" cy="981.5" r="3.0"/>
<circle cx="1031.2" cy="817.8" r="2.6"/>
<circle cx="1150.9" cy="952.2" r="3.0"/>
<circle cx="1186.2" cy="913.0" r="3.4"/>
<circle cx="937.8" cy="757.6" r="2.4"/>
<circle cx="1144.9" cy="880.5" r="2.3"/>
<circle cx="1048.7" cy="947.4" r="2.2"/>
<circle cx="902.1" cy="894.3" r="3.2"/>
<circle cx="876.0" cy="852.2" r="2.8"/>
<circle cx="954.1" cy="769.5" r="2.5"/>
<circle cx="1193.5" cy="866.2" r="3.2"/>
<circle cx="990.6" cy="775.5" r="2.5"/>
<circle cx="1005.3" cy="912.9" r="3.1"/>
<circle cx="884.6" cy="961.4" r="2.7"/>
<circle cx="1174.1" cy="827.4" r="2.2"/>
<circle cx="1059.0" cy="1027.6" r="2.8"/>
<circle cx="1127.5" cy="855.4" r="2.3"/>
<circle cx="909.3" cy="758.4" r="2.5"/>
<circle cx="1103.9" cy="920.3" r="3.4"/>
<circle cx="1019.8" cy="809.7" r="2.5"/>
<circle cx="1051.6" cy="893.7" r="3.2"/>
<circle cx="1074.9" cy="984.3" r="2.7"/>
<circle cx="1071.9" cy="1005.7" r="2.4"/>
<circle cx="979.3" cy="822.6" r="2.7"/>
<circle cx="1038.0" cy="955.6" r="3.4"/>
<circle cx="1048.9" cy="779.1" r="3.3"/>
<circle cx="1043.9" cy="973.4" r="3.2"/>
<circle cx="981.4" cy="826.3" r="3.4"/>
<circle cx="1037.3" cy="953.8" r="3.1"/>
<circle cx="970.8" cy="951.0" r="2.3"/>
<circle cx="1130.8" cy="939.1" r="2.5"/>
<circle cx="929.8" cy="806.4" r="2.7"/>
<circle cx="1135.9" cy="838.3" r="2.9"/>
<circle cx="1067.3" cy="814.0" r="2.4"/>
<circle cx="1151.1" cy="784.1" r="2.5"/>
<circle cx="1073.0" cy="1006.1" r="3.3"/>
<circle cx="1073.6" cy="1027.0" r="3.3"/>
<circle cx="925.2" cy="801.1" r="2.3"/>
<circle cx="1185.4" cy="909.3" r="2.5"/>
<circle cx="991.4" cy="785.0" r="3.2"/>
<circle cx="937.8" cy="815.6" r="2.4"/>
<circle cx="1008.1" cy="824.4" r="2.5"/>
<circle cx="864.4" cy="810.8" r="2.9"/>
<circle cx="984.7" cy="1030.5" r="2.4"/>
<circle cx="1108.1" cy="878.0" r="2.7"/>
<circle cx="1085.8" cy="895.5" r="2.6"/>
<circle cx="958.9" cy="841.4" r="2.6"/>
<circle cx="1152.5" cy="760.9" r="3.0"/>
<circle cx="967.8" cy="746.1" r="2.4"/>
<circle cx="1039.8" cy="873.7" r="3.3"/>
<circle cx="964.0" cy="707.9" r="2.2"/>
<circle cx="936.0" cy="778.5" r="3.1"/>
<circle cx="942.4" cy="1024.8" r="2.3"/>
<circle cx="870.9" cy="826.5" r="3.3"/>
<circle cx="1004.7" cy="724.9" r="3.2"/>
<circle cx="1107.2" cy="816.8" r="3.0"/>
<circle cx="1151.0" cy="775.0" r="2.7"/>
<circle cx="1058.2" cy="714.0" r="2.9"/>
<circle cx="939.2" cy="793.5" r="2.9"/>
<circle cx="977.8" cy="837.9" r="3.0"/>
<circle cx="1182.7" cy="861.9" r="3.1"/>
<circle cx="900.6" cy="963.8" r="2.9"/>
<circle cx="865.7" cy="926.2" r="2.3"/>
<circle cx="1016.7" cy="839.0" r="2.9"/>
<circle cx="932.3" cy="878.6" r="3.0"/>
<circle cx="877.8" cy="871.0" r="3.3"/>
<circle cx="1016.0" cy="887.0" r="2.6"/>
<circle cx="981.9" cy="799.0" r="2.4"/>
<circle cx="1136.1" cy="790.7" r="2.7"/>
<circle cx="1095.4" cy="806.8" r="3.0"/>
<circle cx="1053.7" cy="975.7" r="3.2"/>
<circle cx="1159.4" cy="785.9" r="2.7"/>
<circle cx="930.3" cy="820.4" r="2.4"/>
<circle cx="854.7" cy="872.2" r="3.2"/>
<circle cx="975.0" cy="706.0" r="2.5"/>
<circle cx="1074.6" cy="969.6" r="2.5"/>
<circle cx="1042.2" cy="976.6" r="3.0"/>
<circle cx="917.3" cy="872.4" r="3.2"/>
<circle cx="1135.1" cy="855.7" r="2.3"/>
<circle cx="1179.0" cy="900.3" r="2.2"/>
<circle cx="982.3" cy="743.1" r="2.6"/>
<circle cx="1023.0" cy="845.7" r="2.4"/>
<circle cx="990.0" cy="876.3" r="3.2"/>
<circle cx="1022.0" cy="933.1" r="2.3"/>
<circle cx="935.2" cy="785.3" r="3.0"/>
<circle cx="927.3" cy="740.9" r="3.4"/>
<circle cx="985.1" cy="798.3" r="2.8"/>
<circle cx="1024.7" cy="884.8" r="2.8"/>
<circle cx="1000.0" cy="797.7" r="2.5"/>
<circle cx="933.0" cy="987.1" r="2.8"/>
<circle cx="900.8" cy="770.2" r="2.7"/>
<circle cx="1060.6" cy="710.6" r="2.3"/>
<circle cx="1154.0" cy="808.6" r="2.4"/>
<circle cx="882.5" cy="907.9" r="3.3"/>
<circle cx="921.2" cy="959.4" r="3.3"/>
<circle cx="1066.6" cy="708.7" r="2.8"/>
<circle cx="970.1" cy="805.3" r="3.1"/>
<circle cx="1075.8" cy="743.4" r="3.1"/>
<circle cx="1055.1" cy="1027.6" r="3.4"/>
<circle cx="1145.2" cy="850.8" r="3.1"/>
<circle cx="944.4" cy="1017.0" r="3.2"/>
<circle cx="987.1" cy="909.0" r="2.7"/>
<circle cx="869.1" cy="821.8" r="2.8"/>
<circle cx="1173.5" cy="896.2" r="2.3"/>
<circle cx="1039.4" cy="800.7" r="2.6"/>
<circle cx="1032.4" cy="806.0" r="2.4"/>
<circle cx="866.8" cy="853.5" r="3.2"/>
<circle cx="952.6" cy="713.4" r="2.8"/>
<circle cx="1066.0" cy="852.9" r="2.5"/>
<circle cx="922.6" cy="853.3" r="3.1"/>
<circle cx="934.4" cy="773.4" r="3.2"/>
<circle cx="924.7" cy="833.4" r="2.7"/>
<circle cx="1111.4" cy="733.9" r="2.4"/>
<circle cx="1119.9" cy="732.2" r="2.8"/>
<circle cx="945.5" cy="834.6" r="2.8"/>
<circle cx="878.9" cy="866.0" r="2.2"/>
<circle cx="1141.6" cy="845.1" r="2.7"/>
<circle cx="1058.6" cy="746.2" r="2.8"/>
<circle cx="1000.2" cy="827.5" r="2.8"/>
<circle cx="868.2" cy="955.5" r="3.3"/>
<circle cx="1002.0" cy="986.2" r="2.4"/>
<circle cx="870.4" cy="931.6" r="3.3"/>
<circle cx="918.0" cy="882.9" r="2.4"/>
<circle cx="890.9" cy="757.0" r="2.4"/>
<circle cx="1021.6" cy="843.2" r="2.4"/>
<circle cx="1037.6" cy="1009.8" r="2.6"/>
<circle cx="931.0" cy="975.5" r="2.3"/>
<circle cx="1009.3" cy="808.9" r="2.8"/>
<circle cx="1016.4" cy="945.2" r="2.8"/>
<circle cx="916.6" cy="909.5" r="2.7"/>
<circle cx="947.1" cy="856.1" r="2.4"/>
<circle cx="920.7" cy="767.7" r="2.8"/>
<circle cx="1099.0" cy="760.5" r="3.2"/>
<circle cx="1033.3" cy="1015.9" r="3.2"/>
<circle cx="1098.2" cy="813.2" r="2.6"/>
<circle cx="1089.9" cy="831.2" r="3.4"/>
<circle cx="1066.0" cy="827.8" r="2.5"/>
<circle cx="1003.5" cy="782.0" r="2.3"/>
<circle cx="1073.5" cy="771.6" r="3.1"/>
<circle cx="1095.7" cy="946.4" r="3.0"/>
<circle cx="1095.6" cy="877.3" r="3.0"/>
<circle cx="1164.7" cy="779.2" r="2.3"/>
<circle cx="862.5" cy="863.4" r="2.8"/>
<circle cx="986.4" cy="799.9" r="2.3"/>
<circle cx="1043.6" cy="889.3" r="2.9"/>
<circle cx="883.7" cy="856.6" r="2.4"/>
<circle cx="1048.7" cy="939.9" r="3.2"/>
<circle cx="1186.9" cy="858.6" r="2.3"/>
</g></g>
<g clip-path="url(#c2)"><rect x="1201" y="695" width="353" height="348" fill="url(#g2)"/>
<g filter="url(#blurCell)">
<polygon points="1318.7,728.9 1323.8,707.6 1339.7,722.7" fill="#d6c9bd" stroke="#d6c9bd" stroke-width="2.5" stroke-linejoin="round"/>
<polygon points="1321.2,726.3 1324.8,711.0 1336.2,721.9" fill="#82746a" stroke="#82746a" stroke-width="1.5" stroke-linejoin="round"/>
<circle cx="1327.4" cy="719.7" r="1.6" fill="#978a80"/>
<ellipse cx="1424.0" cy="709.2" rx="13.8" ry="5.0" transform="rotate(133 1424.0 709.2)" fill="#d6c9bd"/>
<ellipse cx="1424.0" cy="709.2" rx="11.8" ry="2.8" transform="rotate(133 1424.0 709.2)" fill="#82746a"/>
<ellipse cx="1440.7" cy="709.2" rx="8.8" ry="7.9" transform="rotate(170 1440.7 709.2)" fill="#d6c9bd"/>
<ellipse cx="1440.7" cy="709.2" rx="6.4" ry="5.5" transform="rotate(170 1440.7 709.2)" fill="#82746a"/>
<circle cx="1440.7" cy="709.2" r="1.7" fill="#978a80"/>
<ellipse cx="1283.6" cy="730.3" rx="8.0" ry="7.4" transform="rotate(84 1283.6 730.3)" fill="#d6c9bd"/>
<ellipse cx="1283.6" cy="730.3" rx="5.6" ry="5.0" transform="rotate(84 1283.6 730.3)" fill="#82746a"/>
<circle cx="1283.6" cy="730.3" r="1.7" fill="#978a80"/>
<ellipse cx="1313.8" cy="745.4" rx="8.0" ry="7.0" transform="rotate(2 1313.8 745.4)" fill="#d6c9bd"/>
<ellipse cx="1313.8" cy="745.4" rx="5.6" ry="4.6" transform="rotate(2 1313.8 745.4)" fill="#82746a"/>
<circle cx="1313.8" cy="745.4" r="1.7" fill="#978a80"/>
<ellipse cx="1288.2" cy="748.4" rx="11.5" ry="5.8" transform="rotate(138 1288.2 748.4)" fill="#d6c9bd"/>
<ellipse cx="1288.2" cy="748.4" rx="9.5" ry="3.6" transform="rotate(138 1288.2 748.4)" fill="#82746a"/>
<ellipse cx="1261.0" cy="749.9" rx="7.8" ry="6.6" transform="rotate(111 1261.0 749.9)" fill="#d6c9bd"/>
<ellipse cx="1261.0" cy="749.9" rx="5.4" ry="4.2" transform="rotate(111 1261.0 749.9)" fill="#82746a"/>
<circle cx="1261.0" cy="749.9" r="1.7" fill="#978a80"/>
<ellipse cx="1359.1" cy="757.5" rx="11.6" ry="6.0" transform="rotate(38 1359.1 757.5)" fill="#d6c9bd"/>
<ellipse cx="1359.1" cy="757.5" rx="9.6" ry="3.8" transform="rotate(38 1359.1 757.5)" fill="#82746a"/>
<ellipse cx="1389.3" cy="746.9" rx="13.9" ry="5.5" transform="rotate(52 1389.3 746.9)" fill="#d6c9bd"/>
<ellipse cx="1389.3" cy="746.9" rx="11.9" ry="3.3" transform="rotate(52 1389.3 746.9)" fill="#82746a"/>
<polygon points="1443.5,744.1 1421.2,741.4 1434.7,723.5" fill="#d6c9bd" stroke="#d6c9bd" stroke-width="2.5" stroke-linejoin="round"/>
<polygon points="1440.6,742.0 1424.5,740.0 1434.2,727.0" fill="#82746a" stroke="#82746a" stroke-width="1.5" stroke-linejoin="round"/>
<circle cx="1433.1" cy="736.3" r="1.6" fill="#978a80"/>
<polygon points="1446.0,761.9 1464.0,748.7 1466.4,770.9" fill="#d6c9bd" stroke="#d6c9bd" stroke-width="2.5" stroke-linejoin="round"/>
<polygon points="1449.5,761.5 1462.6,752.0 1464.2,768.0" fill="#82746a" stroke="#82746a" stroke-width="1.5" stroke-linejoin="round"/>
<circle cx="1458.8" cy="760.5" r="1.6" fill="#978a80"/>
<ellipse cx="1513.1" cy="772.6" rx="7.9" ry="6.8" transform="rotate(65 1513.1 772.6)" fill="#d6c9bd"/>
<ellipse cx="1513.1" cy="772.6" rx="5.5" ry="4.4" transform="rotate(65 1513.1 772.6)" fill="#82746a"/>
<circle cx="1513.1" cy="772.6" r="1.7" fill="#978a80"/>
<ellipse cx="1413.5" cy="774.1" rx="8.7" ry="6.6" transform="rotate(54 1413.5 774.1)" fill="#d6c9bd"/>
<ellipse cx="1413.5" cy="774.1" rx="6.3" ry="4.2" transform="rotate(54 1413.5 774.1)" fill="#82746a"/>
<circle cx="1413.5" cy="774.1" r="1.7" fill="#978a80"/>
<polygon points="1305.9,790.4 1288.5,780.0 1306.2,770.1" fill="#d6c9bd" stroke="#d6c9bd" stroke-width="2.5" stroke-linejoin="round"/>
<polygon points="1304.2,787.2 1292.1,780.0 1304.4,773.2" fill="#82746a" stroke="#82746a" stroke-width="1.5" stroke-linejoin="round"/>
<circle cx="1300.2" cy="780.1" r="1.6" fill="#978a80"/>
<ellipse cx="1256.4" cy="781.6" rx="11.9" ry="5.5" transform="rotate(87 1256.4 781.6)" fill="#d6c9bd"/>
<ellipse cx="1256.4" cy="781.6" rx="9.9" ry="3.3" transform="rotate(87 1256.4 781.6)" fill="#82746a"/>
<polygon points="1248.1,787.0 1226.9,794.6 1230.9,772.4" fill="#d6c9bd" stroke="#d6c9bd" stroke-width="2.5" stroke-linejoin="round"/>
<polygon points="1244.6,786.3 1229.2,791.9 1232.1,775.8" fill="#82746a" stroke="#82746a" stroke-width="1.5" stroke-linejoin="round"/>
<circle cx="1235.3" cy="784.7" r="1.6" fill="#978a80"/>
<ellipse cx="1251.9" cy="804.3" rx="9.1" ry="6.6" transform="rotate(135 1251.9 804.3)" fill="#d6c9bd"/>
<ellipse cx="1251.9" cy="804.3" rx="6.7" ry="4.2" transform="rotate(135 1251.9 804.3)" fill="#82746a"/>
<circle cx="1251.9" cy="804.3" r="1.7" fill="#978a80"/>
<polygon points="1376.2,809.4 1359.0,797.0 1378.4,788.3" fill="#d6c9bd" stroke="#d6c9bd" stroke-width="2.5" stroke-linejoin="round"/>
<polygon points="1374.7,806.2 1362.6,797.4 1376.3,791.2" fill="#82746a" stroke="#82746a" stroke-width="1.5" stroke-linejoin="round"/>
<circle cx="1371.2" cy="798.2" r="1.6" fill="#978a80"/>
<ellipse cx="1446.7" cy="799.8" rx="7.9" ry="7.9" transform="rotate(8 1446.7 799.8)" fill="#d6c9bd"/>
<ellipse cx="1446.7" cy="799.8" rx="5.5" ry="5.5" transform="rotate(8 1446.7 799.8)" fill="#82746a"/>
<circle cx="1446.7" cy="799.8" r="1.7" fill="#978a80"/>
<ellipse cx="1387.8" cy="805.8" rx="9.3" ry="7.9" transform="rotate(136 1387.8 805.8)" fill="#d6c9bd"/>
<ellipse cx="1387.8" cy="805.8" rx="6.9" ry="5.5" transform="rotate(136 1387.8 805.8)" fill="#82746a"/>
<circle cx="1387.8" cy="805.8" r="1.7" fill="#978a80"/>
<ellipse cx="1341.0" cy="814.9" rx="8.5" ry="7.7" transform="rotate(64 1341.0 814.9)" fill="#d6c9bd"/>
<ellipse cx="1341.0" cy="814.9" rx="6.1" ry="5.3" transform="rotate(64 1341.0 814.9)" fill="#82746a"/>
<circle cx="1341.0" cy="814.9" r="1.7" fill="#978a80"/>
<ellipse cx="1212.7" cy="822.4" rx="9.0" ry="7.8" transform="rotate(135 1212.7 822.4)" fill="#d6c9bd"/>
<ellipse cx="1212.7" cy="822.4" rx="6.6" ry="5.4" transform="rotate(135 1212.7 822.4)" fill="#82746a"/>
<circle cx="1212.7" cy="822.4" r="1.7" fill="#978a80"/>
<ellipse cx="1236.8" cy="819.4" rx="7.8" ry="7.1" transform="rotate(170 1236.8 819.4)" fill="#d6c9bd"/>
<ellipse cx="1236.8" cy="819.4" rx="5.4" ry="4.7" transform="rotate(170 1236.8 819.4)" fill="#82746a"/>
<circle cx="1236.8" cy="819.4" r="1.7" fill="#978a80"/>
<polygon points="1216.4,836.0 1230.8,821.6 1236.0,841.3" fill="#d6c9bd" stroke="#d6c9bd" stroke-width="2.5" stroke-linejoin="round"/>
<polygon points="1219.8,835.1 1229.9,825.1 1233.5,838.8" fill="#82746a" stroke="#82746a" stroke-width="1.5" stroke-linejoin="round"/>
<circle cx="1227.8" cy="833.0" r="1.6" fill="#978a80"/>
<ellipse cx="1404.4" cy="817.9" rx="11.9" ry="5.3" transform="rotate(98 1404.4 817.9)" fill="#d6c9bd"/>
<ellipse cx="1404.4" cy="817.9" rx="9.9" ry="3.1" transform="rotate(98 1404.4 817.9)" fill="#82746a"/>
<ellipse cx="1404.4" cy="826.9" rx="7.9" ry="7.6" transform="rotate(14 1404.4 826.9)" fill="#d6c9bd"/>
<ellipse cx="1404.4" cy="826.9" rx="5.5" ry="5.2" transform="rotate(14 1404.4 826.9)" fill="#82746a"/>
<circle cx="1404.4" cy="826.9" r="1.7" fill="#978a80"/>
<ellipse cx="1381.8" cy="826.9" rx="11.1" ry="6.0" transform="rotate(29 1381.8 826.9)" fill="#d6c9bd"/>
<ellipse cx="1381.8" cy="826.9" rx="9.1" ry="3.8" transform="rotate(29 1381.8 826.9)" fill="#82746a"/>
<ellipse cx="1301.7" cy="828.5" rx="8.0" ry="7.4" transform="rotate(73 1301.7 828.5)" fill="#d6c9bd"/>
<ellipse cx="1301.7" cy="828.5" rx="5.6" ry="5.0" transform="rotate(73 1301.7 828.5)" fill="#82746a"/>
<circle cx="1301.7" cy="828.5" r="1.7" fill="#978a80"/>
<ellipse cx="1493.5" cy="830.0" rx="12.3" ry="5.1" transform="rotate(82 1493.5 830.0)" fill="#d6c9bd"/>
<ellipse cx="1493.5" cy="830.0" rx="10.3" ry="2.9" transform="rotate(82 1493.5 830.0)" fill="#82746a"/>
<ellipse cx="1286.6" cy="839.0" rx="12.5" ry="5.8" transform="rotate(6 1286.6 839.0)" fill="#d6c9bd"/>
<ellipse cx="1286.6" cy="839.0" rx="10.5" ry="3.6" transform="rotate(6 1286.6 839.0)" fill="#82746a"/>
<ellipse cx="1318.3" cy="845.1" rx="9.3" ry="7.5" transform="rotate(132 1318.3 845.1)" fill="#d6c9bd"/>
<ellipse cx="1318.3" cy="845.1" rx="6.9" ry="5.1" transform="rotate(132 1318.3 845.1)" fill="#82746a"/>
<circle cx="1318.3" cy="845.1" r="1.7" fill="#978a80"/>
<polygon points="1439.9,841.4 1419.5,845.3 1426.3,825.8" fill="#d6c9bd" stroke="#d6c9bd" stroke-width="2.5" stroke-linejoin="round"/>
<polygon points="1436.5,840.3 1422.2,843.0 1427.0,829.3" fill="#82746a" stroke="#82746a" stroke-width="1.5" stroke-linejoin="round"/>
<circle cx="1428.6" cy="837.5" r="1.6" fill="#978a80"/>
<ellipse cx="1446.7" cy="837.5" rx="8.1" ry="7.2" transform="rotate(152 1446.7 837.5)" fill="#d6c9bd"/>
<ellipse cx="1446.7" cy="837.5" rx="5.7" ry="4.8" transform="rotate(152 1446.7 837.5)" fill="#82746a"/>
<circle cx="1446.7" cy="837.5" r="1.7" fill="#978a80"/>
<ellipse cx="1437.6" cy="846.6" rx="13.9" ry="5.5" transform="rotate(153 1437.6 846.6)" fill="#d6c9bd"/>
<ellipse cx="1437.6" cy="846.6" rx="11.9" ry="3.3" transform="rotate(153 1437.6 846.6)" fill="#82746a"/>
<ellipse cx="1473.9" cy="849.6" rx="8.5" ry="7.0" transform="rotate(131 1473.9 849.6)" fill="#d6c9bd"/>
<ellipse cx="1473.9" cy="849.6" rx="6.1" ry="4.6" transform="rotate(131 1473.9 849.6)" fill="#82746a"/>
<circle cx="1473.9" cy="849.6" r="1.7" fill="#978a80"/>
<ellipse cx="1324.4" cy="857.1" rx="8.3" ry="8.0" transform="rotate(26 1324.4 857.1)" fill="#d6c9bd"/>
<ellipse cx="1324.4" cy="857.1" rx="5.9" ry="5.6" transform="rotate(26 1324.4 857.1)" fill="#82746a"/>
<circle cx="1324.4" cy="857.1" r="1.7" fill="#978a80"/>
<ellipse cx="1350.1" cy="863.2" rx="12.5" ry="5.3" transform="rotate(113 1350.1 863.2)" fill="#d6c9bd"/>
<ellipse cx="1350.1" cy="863.2" rx="10.5" ry="3.1" transform="rotate(113 1350.1 863.2)" fill="#82746a"/>
<ellipse cx="1401.4" cy="854.1" rx="9.0" ry="7.8" transform="rotate(49 1401.4 854.1)" fill="#d6c9bd"/>
<ellipse cx="1401.4" cy="854.1" rx="6.6" ry="5.4" transform="rotate(49 1401.4 854.1)" fill="#82746a"/>
<circle cx="1401.4" cy="854.1" r="1.7" fill="#978a80"/>
<ellipse cx="1434.6" cy="860.2" rx="9.0" ry="7.6" transform="rotate(141 1434.6 860.2)" fill="#d6c9bd"/>
<ellipse cx="1434.6" cy="860.2" rx="6.6" ry="5.2" transform="rotate(141 1434.6 860.2)" fill="#82746a"/>
<circle cx="1434.6" cy="860.2" r="1.7" fill="#978a80"/>
<polygon points="1367.1,875.8 1373.0,856.2 1387.1,871.1" fill="#d6c9bd" stroke="#d6c9bd" stroke-width="2.5" stroke-linejoin="round"/>
<polygon points="1369.7,873.3 1373.8,859.7 1383.6,870.1" fill="#82746a" stroke="#82746a" stroke-width="1.5" stroke-linejoin="round"/>
<circle cx="1375.7" cy="867.7" r="1.6" fill="#978a80"/>
<polygon points="1265.6,874.0 1246.0,866.7 1262.2,853.4" fill="#d6c9bd" stroke="#d6c9bd" stroke-width="2.5" stroke-linejoin="round"/>
<polygon points="1263.3,871.2 1249.6,866.1 1260.9,856.8" fill="#82746a" stroke="#82746a" stroke-width="1.5" stroke-linejoin="round"/>
<circle cx="1258.0" cy="864.7" r="1.6" fill="#978a80"/>
<polygon points="1204.5,880.4 1206.1,860.2 1222.8,871.6" fill="#d6c9bd" stroke="#d6c9bd" stroke-width="2.5" stroke-linejoin="round"/>
<polygon points="1206.6,877.4 1207.6,863.4 1219.2,871.3" fill="#82746a" stroke="#82746a" stroke-width="1.5" stroke-linejoin="round"/>
<circle cx="1211.1" cy="870.7" r="1.6" fill="#978a80"/>
<ellipse cx="1295.7" cy="867.7" rx="12.7" ry="5.0" transform="rotate(117 1295.7 867.7)" fill="#d6c9bd"/>
<ellipse cx="1295.7" cy="867.7" rx="10.7" ry="2.8" transform="rotate(117 1295.7 867.7)" fill="#82746a"/>
<ellipse cx="1461.8" cy="875.3" rx="8.8" ry="7.2" transform="rotate(45 1461.8 875.3)" fill="#d6c9bd"/>
<ellipse cx="1461.8" cy="875.3" rx="6.4" ry="4.8" transform="rotate(45 1461.8 875.3)" fill="#82746a"/>
<circle cx="1461.8" cy="875.3" r="1.7" fill="#978a80"/>
<ellipse cx="1478.4" cy="869.2" rx="13.4" ry="5.3" transform="rotate(117 1478.4 869.2)" fill="#d6c9bd"/>
<ellipse cx="1478.4" cy="869.2" rx="11.4" ry="3.1" transform="rotate(117 1478.4 869.2)" fill="#82746a"/>
<polygon points="1296.1,893.7 1301.0,872.1 1317.2,887.1" fill="#d6c9bd" stroke="#d6c9bd" stroke-width="2.5" stroke-linejoin="round"/>
<polygon points="1298.5,891.0 1302.1,875.6 1313.7,886.3" fill="#82746a" stroke="#82746a" stroke-width="1.5" stroke-linejoin="round"/>
<circle cx="1304.8" cy="884.3" r="1.6" fill="#978a80"/>
<ellipse cx="1331.9" cy="885.8" rx="9.2" ry="7.6" transform="rotate(152 1331.9 885.8)" fill="#d6c9bd"/>
<ellipse cx="1331.9" cy="885.8" rx="6.8" ry="5.2" transform="rotate(152 1331.9 885.8)" fill="#82746a"/>
<circle cx="1331.9" cy="885.8" r="1.7" fill="#978a80"/>
<ellipse cx="1368.2" cy="884.3" rx="12.6" ry="5.5" transform="rotate(172 1368.2 884.3)" fill="#d6c9bd"/>
<ellipse cx="1368.2" cy="884.3" rx="10.6" ry="3.3" transform="rotate(172 1368.2 884.3)" fill="#82746a"/>
<ellipse cx="1396.9" cy="881.3" rx="9.3" ry="7.3" transform="rotate(151 1396.9 881.3)" fill="#d6c9bd"/>
<ellipse cx="1396.9" cy="881.3" rx="6.9" ry="4.9" transform="rotate(151 1396.9 881.3)" fill="#82746a"/>
<circle cx="1396.9" cy="881.3" r="1.7" fill="#978a80"/>
<polygon points="1530.8,892.5 1534.4,871.0 1551.2,884.9" fill="#d6c9bd" stroke="#d6c9bd" stroke-width="2.5" stroke-linejoin="round"/>
<polygon points="1533.1,889.7 1535.7,874.4 1547.6,884.3" fill="#82746a" stroke="#82746a" stroke-width="1.5" stroke-linejoin="round"/>
<circle cx="1538.8" cy="882.8" r="1.6" fill="#978a80"/>
<ellipse cx="1264.0" cy="894.9" rx="8.6" ry="7.5" transform="rotate(140 1264.0 894.9)" fill="#d6c9bd"/>
<ellipse cx="1264.0" cy="894.9" rx="6.2" ry="5.1" transform="rotate(140 1264.0 894.9)" fill="#82746a"/>
<circle cx="1264.0" cy="894.9" r="1.7" fill="#978a80"/>
<ellipse cx="1285.1" cy="891.9" rx="9.0" ry="7.5" transform="rotate(112 1285.1 891.9)" fill="#d6c9bd"/>
<ellipse cx="1285.1" cy="891.9" rx="6.6" ry="5.1" transform="rotate(112 1285.1 891.9)" fill="#82746a"/>
<circle cx="1285.1" cy="891.9" r="1.7" fill="#978a80"/>
<polygon points="1313.1,900.4 1295.2,908.8 1296.9,889.1" fill="#d6c9bd" stroke="#d6c9bd" stroke-width="2.5" stroke-linejoin="round"/>
<polygon points="1309.5,900.1 1297.3,905.8 1298.4,892.3" fill="#82746a" stroke="#82746a" stroke-width="1.5" stroke-linejoin="round"/>
<circle cx="1301.7" cy="899.4" r="1.6" fill="#978a80"/>
<ellipse cx="1328.9" cy="907.0" rx="8.0" ry="7.6" transform="rotate(117 1328.9 907.0)" fill="#d6c9bd"/>
<ellipse cx="1328.9" cy="907.0" rx="5.6" ry="5.2" transform="rotate(117 1328.9 907.0)" fill="#82746a"/>
<circle cx="1328.9" cy="907.0" r="1.7" fill="#978a80"/>
<polygon points="1423.9,902.5 1404.6,910.5 1407.4,889.8" fill="#d6c9bd" stroke="#d6c9bd" stroke-width="2.5" stroke-linejoin="round"/>
<polygon points="1420.3,902.0 1406.8,907.6 1408.7,893.1" fill="#82746a" stroke="#82746a" stroke-width="1.5" stroke-linejoin="round"/>
<circle cx="1412.0" cy="900.9" r="1.6" fill="#978a80"/>
<ellipse cx="1449.7" cy="896.4" rx="7.8" ry="7.0" transform="rotate(10 1449.7 896.4)" fill="#d6c9bd"/>
<ellipse cx="1449.7" cy="896.4" rx="5.4" ry="4.6" transform="rotate(10 1449.7 896.4)" fill="#82746a"/>
<circle cx="1449.7" cy="896.4" r="1.7" fill="#978a80"/>
<ellipse cx="1473.9" cy="899.4" rx="7.7" ry="7.3" transform="rotate(35 1473.9 899.4)" fill="#d6c9bd"/>
<ellipse cx="1473.9" cy="899.4" rx="5.3" ry="4.9" transform="rotate(35 1473.9 899.4)" fill="#82746a"/>
<circle cx="1473.9" cy="899.4" r="1.7" fill="#978a80"/>
<ellipse cx="1368.2" cy="916.0" rx="8.7" ry="6.9" transform="rotate(110 1368.2 916.0)" fill="#d6c9bd"/>
<ellipse cx="1368.2" cy="916.0" rx="6.3" ry="4.5" transform="rotate(110 1368.2 916.0)" fill="#82746a"/>
<circle cx="1368.2" cy="916.0" r="1.7" fill="#978a80"/>
<ellipse cx="1436.1" cy="916.0" rx="12.2" ry="5.3" transform="rotate(0 1436.1 916.0)" fill="#d6c9bd"/>
<ellipse cx="1436.1" cy="916.0" rx="10.2" ry="3.1" transform="rotate(0 1436.1 916.0)" fill="#82746a"/>
<ellipse cx="1458.8" cy="917.5" rx="9.1" ry="7.1" transform="rotate(21 1458.8 917.5)" fill="#d6c9bd"/>
<ellipse cx="1458.8" cy="917.5" rx="6.7" ry="4.7" transform="rotate(21 1458.8 917.5)" fill="#82746a"/>
<circle cx="1458.8" cy="917.5" r="1.7" fill="#978a80"/>
<ellipse cx="1402.9" cy="925.1" rx="7.8" ry="7.4" transform="rotate(110 1402.9 925.1)" fill="#d6c9bd"/>
<ellipse cx="1402.9" cy="925.1" rx="5.4" ry="5.0" transform="rotate(110 1402.9 925.1)" fill="#82746a"/>
<circle cx="1402.9" cy="925.1" r="1.7" fill="#978a80"/>
<ellipse cx="1250.4" cy="920.6" rx="9.3" ry="7.7" transform="rotate(105 1250.4 920.6)" fill="#d6c9bd"/>
<ellipse cx="1250.4" cy="920.6" rx="6.9" ry="5.3" transform="rotate(105 1250.4 920.6)" fill="#82746a"/>
<circle cx="1250.4" cy="920.6" r="1.7" fill="#978a80"/>
<ellipse cx="1271.5" cy="920.6" rx="8.8" ry="7.1" transform="rotate(146 1271.5 920.6)" fill="#d6c9bd"/>
<ellipse cx="1271.5" cy="920.6" rx="6.4" ry="4.7" transform="rotate(146 1271.5 920.6)" fill="#82746a"/>
<circle cx="1271.5" cy="920.6" r="1.7" fill="#978a80"/>
<ellipse cx="1254.9" cy="929.6" rx="8.6" ry="7.9" transform="rotate(107 1254.9 929.6)" fill="#d6c9bd"/>
<ellipse cx="1254.9" cy="929.6" rx="6.2" ry="5.5" transform="rotate(107 1254.9 929.6)" fill="#82746a"/>
<circle cx="1254.9" cy="929.6" r="1.7" fill="#978a80"/>
<ellipse cx="1341.0" cy="932.6" rx="12.1" ry="5.9" transform="rotate(110 1341.0 932.6)" fill="#d6c9bd"/>
<ellipse cx="1341.0" cy="932.6" rx="10.1" ry="3.7" transform="rotate(110 1341.0 932.6)" fill="#82746a"/>
<ellipse cx="1501.1" cy="926.6" rx="8.6" ry="7.5" transform="rotate(19 1501.1 926.6)" fill="#d6c9bd"/>
<ellipse cx="1501.1" cy="926.6" rx="6.2" ry="5.1" transform="rotate(19 1501.1 926.6)" fill="#82746a"/>
<circle cx="1501.1" cy="926.6" r="1.7" fill="#978a80"/>
<ellipse cx="1362.1" cy="943.2" rx="9.2" ry="7.1" transform="rotate(113 1362.1 943.2)" fill="#d6c9bd"/>
<ellipse cx="1362.1" cy="943.2" rx="6.8" ry="4.7" transform="rotate(113 1362.1 943.2)" fill="#82746a"/>
<circle cx="1362.1" cy="943.2" r="1.7" fill="#978a80"/>
<ellipse cx="1377.2" cy="946.2" rx="8.1" ry="8.0" transform="rotate(41 1377.2 946.2)" fill="#d6c9bd"/>
<ellipse cx="1377.2" cy="946.2" rx="5.7" ry="5.6" transform="rotate(41 1377.2 946.2)" fill="#82746a"/>
<circle cx="1377.2" cy="946.2" r="1.7" fill="#978a80"/>
<ellipse cx="1490.5" cy="946.2" rx="9.2" ry="7.4" transform="rotate(173 1490.5 946.2)" fill="#d6c9bd"/>
<ellipse cx="1490.5" cy="946.2" rx="6.8" ry="5.0" transform="rotate(173 1490.5 946.2)" fill="#82746a"/>
<circle cx="1490.5" cy="946.2" r="1.7" fill="#978a80"/>
<ellipse cx="1517.7" cy="943.2" rx="8.5" ry="7.2" transform="rotate(177 1517.7 943.2)" fill="#d6c9bd"/>
<ellipse cx="1517.7" cy="943.2" rx="6.1" ry="4.8" transform="rotate(177 1517.7 943.2)" fill="#82746a"/>
<circle cx="1517.7" cy="943.2" r="1.7" fill="#978a80"/>
<ellipse cx="1229.3" cy="950.8" rx="8.5" ry="7.0" transform="rotate(177 1229.3 950.8)" fill="#d6c9bd"/>
<ellipse cx="1229.3" cy="950.8" rx="6.1" ry="4.6" transform="rotate(177 1229.3 950.8)" fill="#82746a"/>
<circle cx="1229.3" cy="950.8" r="1.7" fill="#978a80"/>
<ellipse cx="1253.4" cy="967.4" rx="8.7" ry="7.2" transform="rotate(22 1253.4 967.4)" fill="#d6c9bd"/>
<ellipse cx="1253.4" cy="967.4" rx="6.3" ry="4.8" transform="rotate(22 1253.4 967.4)" fill="#82746a"/>
<circle cx="1253.4" cy="967.4" r="1.7" fill="#978a80"/>
<ellipse cx="1291.2" cy="967.4" rx="9.1" ry="6.6" transform="rotate(141 1291.2 967.4)" fill="#d6c9bd"/>
<ellipse cx="1291.2" cy="967.4" rx="6.7" ry="4.2" transform="rotate(141 1291.2 967.4)" fill="#82746a"/>
<circle cx="1291.2" cy="967.4" r="1.7" fill="#978a80"/>
<ellipse cx="1248.9" cy="979.5" rx="9.3" ry="7.7" transform="rotate(49 1248.9 979.5)" fill="#d6c9bd"/>
<ellipse cx="1248.9" cy="979.5" rx="6.9" ry="5.3" transform="rotate(49 1248.9 979.5)" fill="#82746a"/>
<circle cx="1248.9" cy="979.5" r="1.7" fill="#978a80"/>
<ellipse cx="1286.6" cy="987.0" rx="7.9" ry="8.0" transform="rotate(48 1286.6 987.0)" fill="#d6c9bd"/>
<ellipse cx="1286.6" cy="987.0" rx="5.5" ry="5.6" transform="rotate(48 1286.6 987.0)" fill="#82746a"/>
<circle cx="1286.6" cy="987.0" r="1.7" fill="#978a80"/>
<ellipse cx="1436.1" cy="968.9" rx="8.5" ry="7.5" transform="rotate(109 1436.1 968.9)" fill="#d6c9bd"/>
<ellipse cx="1436.1" cy="968.9" rx="6.1" ry="5.1" transform="rotate(109 1436.1 968.9)" fill="#82746a"/>
<circle cx="1436.1" cy="968.9" r="1.7" fill="#978a80"/>
<polygon points="1455.5,986.1 1460.2,967.1 1474.3,980.6" fill="#d6c9bd" stroke="#d6c9bd" stroke-width="2.5" stroke-linejoin="round"/>
<polygon points="1458.0,983.5 1461.2,970.5 1470.8,979.8" fill="#82746a" stroke="#82746a" stroke-width="1.5" stroke-linejoin="round"/>
<circle cx="1463.3" cy="977.9" r="1.6" fill="#978a80"/>
<polygon points="1373.8,986.3 1354.6,977.7 1371.6,965.3" fill="#d6c9bd" stroke="#d6c9bd" stroke-width="2.5" stroke-linejoin="round"/>
<polygon points="1371.7,983.4 1358.1,977.3 1370.2,968.6" fill="#82746a" stroke="#82746a" stroke-width="1.5" stroke-linejoin="round"/>
<circle cx="1366.7" cy="976.4" r="1.6" fill="#978a80"/>
<ellipse cx="1378.8" cy="988.5" rx="8.6" ry="7.3" transform="rotate(53 1378.8 988.5)" fill="#d6c9bd"/>
<ellipse cx="1378.8" cy="988.5" rx="6.2" ry="4.9" transform="rotate(53 1378.8 988.5)" fill="#82746a"/>
<circle cx="1378.8" cy="988.5" r="1.7" fill="#978a80"/>
<ellipse cx="1419.5" cy="999.1" rx="8.7" ry="6.7" transform="rotate(134 1419.5 999.1)" fill="#d6c9bd"/>
<ellipse cx="1419.5" cy="999.1" rx="6.3" ry="4.3" transform="rotate(134 1419.5 999.1)" fill="#82746a"/>
<circle cx="1419.5" cy="999.1" r="1.7" fill="#978a80"/>
<ellipse cx="1402.9" cy="1006.6" rx="9.2" ry="7.8" transform="rotate(82 1402.9 1006.6)" fill="#d6c9bd"/>
<ellipse cx="1402.9" cy="1006.6" rx="6.8" ry="5.4" transform="rotate(82 1402.9 1006.6)" fill="#82746a"/>
<circle cx="1402.9" cy="1006.6" r="1.7" fill="#978a80"/>
<ellipse cx="1392.3" cy="1017.2" rx="9.0" ry="7.2" transform="rotate(3 1392.3 1017.2)" fill="#d6c9bd"/>
<ellipse cx="1392.3" cy="1017.2" rx="6.6" ry="4.8" transform="rotate(3 1392.3 1017.2)" fill="#82746a"/>
<circle cx="1392.3" cy="1017.2" r="1.7" fill="#978a80"/>
<ellipse cx="1359.1" cy="1015.7" rx="8.7" ry="7.3" transform="rotate(127 1359.1 1015.7)" fill="#d6c9bd"/>
<ellipse cx="1359.1" cy="1015.7" rx="6.3" ry="4.9" transform="rotate(127 1359.1 1015.7)" fill="#82746a"/>
<circle cx="1359.1" cy="1015.7" r="1.7" fill="#978a80"/>
<ellipse cx="1344.0" cy="1018.7" rx="12.2" ry="5.9" transform="rotate(69 1344.0 1018.7)" fill="#d6c9bd"/>
<ellipse cx="1344.0" cy="1018.7" rx="10.2" ry="3.7" transform="rotate(69 1344.0 1018.7)" fill="#82746a"/>
<ellipse cx="1292.7" cy="1015.7" rx="9.1" ry="6.7" transform="rotate(53 1292.7 1015.7)" fill="#d6c9bd"/>
<ellipse cx="1292.7" cy="1015.7" rx="6.7" ry="4.3" transform="rotate(53 1292.7 1015.7)" fill="#82746a"/>
<circle cx="1292.7" cy="1015.7" r="1.7" fill="#978a80"/>
<ellipse cx="1452.7" cy="1011.2" rx="12.3" ry="5.3" transform="rotate(125 1452.7 1011.2)" fill="#d6c9bd"/>
<ellipse cx="1452.7" cy="1011.2" rx="10.3" ry="3.1" transform="rotate(125 1452.7 1011.2)" fill="#82746a"/>
<polygon points="1532.4,833.1 1546.1,818.9 1551.5,837.9" fill="#d6c9bd" stroke="#d6c9bd" stroke-width="2.5" stroke-linejoin="round"/>
<polygon points="1535.9,832.1 1545.2,822.4 1548.9,835.4" fill="#82746a" stroke="#82746a" stroke-width="1.5" stroke-linejoin="round"/>
<circle cx="1543.3" cy="830.0" r="1.6" fill="#978a80"/>
</g></g>
<g clip-path="url(#c3)"><rect x="1557" y="695" width="370" height="350" fill="url(#g3)"/>
<g filter="url(#blurCell)">
<ellipse cx="1676.4" cy="712.5" rx="8.5" ry="7.1" transform="rotate(99 1676.4 712.5)" fill="#d9cebd"/>
<ellipse cx="1676.4" cy="712.5" rx="6.1" ry="4.7" transform="rotate(99 1676.4 712.5)" fill="#7f7466"/>
<circle cx="1676.4" cy="712.5" r="1.7" fill="#968b7c"/>
<ellipse cx="1710.5" cy="718.8" rx="9.1" ry="6.7" transform="rotate(105 1710.5 718.8)" fill="#d9cebd"/>
<ellipse cx="1710.5" cy="718.8" rx="6.7" ry="4.3" transform="rotate(105 1710.5 718.8)" fill="#7f7466"/>
<circle cx="1710.5" cy="718.8" r="1.7" fill="#968b7c"/>
<ellipse cx="1726.0" cy="714.1" rx="9.0" ry="7.5" transform="rotate(148 1726.0 714.1)" fill="#d9cebd"/>
<ellipse cx="1726.0" cy="714.1" rx="6.6" ry="5.1" transform="rotate(148 1726.0 714.1)" fill="#7f7466"/>
<circle cx="1726.0" cy="714.1" r="1.7" fill="#968b7c"/>
<ellipse cx="1664.0" cy="723.4" rx="9.4" ry="8.0" transform="rotate(130 1664.0 723.4)" fill="#d9cebd"/>
<ellipse cx="1664.0" cy="723.4" rx="7.0" ry="5.6" transform="rotate(130 1664.0 723.4)" fill="#7f7466"/>
<circle cx="1664.0" cy="723.4" r="1.7" fill="#968b7c"/>
<polygon points="1667.3,740.9 1646.7,748.9 1650.1,727.0" fill="#d9cebd" stroke="#d9cebd" stroke-width="2.5" stroke-linejoin="round"/>
<polygon points="1663.8,740.3 1648.9,746.1 1651.4,730.3" fill="#7f7466" stroke="#7f7466" stroke-width="1.5" stroke-linejoin="round"/>
<circle cx="1654.7" cy="738.9" r="1.6" fill="#968b7c"/>
<ellipse cx="1695.0" cy="729.6" rx="9.3" ry="7.6" transform="rotate(116 1695.0 729.6)" fill="#d9cebd"/>
<ellipse cx="1695.0" cy="729.6" rx="6.9" ry="5.2" transform="rotate(116 1695.0 729.6)" fill="#7f7466"/>
<circle cx="1695.0" cy="729.6" r="1.7" fill="#968b7c"/>
<ellipse cx="1722.9" cy="731.1" rx="9.3" ry="6.8" transform="rotate(53 1722.9 731.1)" fill="#d9cebd"/>
<ellipse cx="1722.9" cy="731.1" rx="6.9" ry="4.4" transform="rotate(53 1722.9 731.1)" fill="#7f7466"/>
<circle cx="1722.9" cy="731.1" r="1.7" fill="#968b7c"/>
<polygon points="1738.4,754.6 1724.2,740.7 1743.3,735.4" fill="#d9cebd" stroke="#d9cebd" stroke-width="2.5" stroke-linejoin="round"/>
<polygon points="1737.4,751.1 1727.7,741.6 1740.8,738.0" fill="#7f7466" stroke="#7f7466" stroke-width="1.5" stroke-linejoin="round"/>
<circle cx="1735.3" cy="743.5" r="1.6" fill="#968b7c"/>
<polygon points="1678.3,749.7 1660.2,757.1 1662.8,737.7" fill="#d9cebd" stroke="#d9cebd" stroke-width="2.5" stroke-linejoin="round"/>
<polygon points="1674.7,749.3 1662.4,754.3 1664.2,741.1" fill="#7f7466" stroke="#7f7466" stroke-width="1.5" stroke-linejoin="round"/>
<circle cx="1667.1" cy="748.2" r="1.6" fill="#968b7c"/>
<ellipse cx="1704.3" cy="760.6" rx="7.7" ry="7.4" transform="rotate(13 1704.3 760.6)" fill="#d9cebd"/>
<ellipse cx="1704.3" cy="760.6" rx="5.3" ry="5.0" transform="rotate(13 1704.3 760.6)" fill="#7f7466"/>
<circle cx="1704.3" cy="760.6" r="1.7" fill="#968b7c"/>
<polygon points="1746.5,730.7 1758.6,715.2 1765.9,733.5" fill="#d9cebd" stroke="#d9cebd" stroke-width="2.5" stroke-linejoin="round"/>
<polygon points="1749.8,729.4 1758.1,718.8 1763.1,731.3" fill="#7f7466" stroke="#7f7466" stroke-width="1.5" stroke-linejoin="round"/>
<circle cx="1757.0" cy="726.5" r="1.6" fill="#968b7c"/>
<ellipse cx="1769.4" cy="734.2" rx="8.7" ry="7.3" transform="rotate(57 1769.4 734.2)" fill="#d9cebd"/>
<ellipse cx="1769.4" cy="734.2" rx="6.3" ry="4.9" transform="rotate(57 1769.4 734.2)" fill="#7f7466"/>
<circle cx="1769.4" cy="734.2" r="1.7" fill="#968b7c"/>
<ellipse cx="1763.2" cy="746.6" rx="11.2" ry="5.7" transform="rotate(67 1763.2 746.6)" fill="#d9cebd"/>
<ellipse cx="1763.2" cy="746.6" rx="9.2" ry="3.5" transform="rotate(67 1763.2 746.6)" fill="#7f7466"/>
<ellipse cx="1784.9" cy="738.9" rx="8.5" ry="7.9" transform="rotate(114 1784.9 738.9)" fill="#d9cebd"/>
<ellipse cx="1784.9" cy="738.9" rx="6.1" ry="5.5" transform="rotate(114 1784.9 738.9)" fill="#7f7466"/>
<circle cx="1784.9" cy="738.9" r="1.7" fill="#968b7c"/>
<ellipse cx="1809.7" cy="726.5" rx="8.1" ry="7.4" transform="rotate(112 1809.7 726.5)" fill="#d9cebd"/>
<ellipse cx="1809.7" cy="726.5" rx="5.7" ry="5.0" transform="rotate(112 1809.7 726.5)" fill="#7f7466"/>
<circle cx="1809.7" cy="726.5" r="1.7" fill="#968b7c"/>
<ellipse cx="1825.2" cy="725.0" rx="8.5" ry="6.8" transform="rotate(135 1825.2 725.0)" fill="#d9cebd"/>
<ellipse cx="1825.2" cy="725.0" rx="6.1" ry="4.4" transform="rotate(135 1825.2 725.0)" fill="#7f7466"/>
<circle cx="1825.2" cy="725.0" r="1.7" fill="#968b7c"/>
<ellipse cx="1833.0" cy="742.0" rx="8.9" ry="6.9" transform="rotate(67 1833.0 742.0)" fill="#d9cebd"/>
<ellipse cx="1833.0" cy="742.0" rx="6.5" ry="4.5" transform="rotate(67 1833.0 742.0)" fill="#7f7466"/>
<circle cx="1833.0" cy="742.0" r="1.7" fill="#968b7c"/>
<polygon points="1796.7,762.8 1796.0,743.3 1813.2,752.4" fill="#d9cebd" stroke="#d9cebd" stroke-width="2.5" stroke-linejoin="round"/>
<polygon points="1798.4,759.6 1797.9,746.4 1809.6,752.6" fill="#7f7466" stroke="#7f7466" stroke-width="1.5" stroke-linejoin="round"/>
<circle cx="1802.0" cy="752.9" r="1.6" fill="#968b7c"/>
<polygon points="1823.7,762.3 1804.6,766.9 1810.1,748.0" fill="#d9cebd" stroke="#d9cebd" stroke-width="2.5" stroke-linejoin="round"/>
<polygon points="1820.2,761.2 1807.2,764.4 1811.0,751.5" fill="#7f7466" stroke="#7f7466" stroke-width="1.5" stroke-linejoin="round"/>
<circle cx="1812.8" cy="759.0" r="1.6" fill="#968b7c"/>
<polygon points="1840.8,766.3 1819.1,761.3 1834.3,745.0" fill="#d9cebd" stroke="#d9cebd" stroke-width="2.5" stroke-linejoin="round"/>
<polygon points="1838.2,763.8 1822.6,760.2 1833.5,748.5" fill="#7f7466" stroke="#7f7466" stroke-width="1.5" stroke-linejoin="round"/>
<circle cx="1831.4" cy="757.5" r="1.6" fill="#968b7c"/>
<ellipse cx="1862.4" cy="756.0" rx="9.0" ry="6.6" transform="rotate(58 1862.4 756.0)" fill="#d9cebd"/>
<ellipse cx="1862.4" cy="756.0" rx="6.6" ry="4.2" transform="rotate(58 1862.4 756.0)" fill="#7f7466"/>
<circle cx="1862.4" cy="756.0" r="1.7" fill="#968b7c"/>
<polygon points="1879.8,747.0 1861.3,753.9 1864.6,734.4" fill="#d9cebd" stroke="#d9cebd" stroke-width="2.5" stroke-linejoin="round"/>
<polygon points="1876.3,746.4 1863.6,751.1 1865.9,737.8" fill="#7f7466" stroke="#7f7466" stroke-width="1.5" stroke-linejoin="round"/>
<circle cx="1868.6" cy="745.1" r="1.6" fill="#968b7c"/>
<ellipse cx="1843.8" cy="776.1" rx="11.7" ry="5.1" transform="rotate(123 1843.8 776.1)" fill="#d9cebd"/>
<ellipse cx="1843.8" cy="776.1" rx="9.7" ry="2.9" transform="rotate(123 1843.8 776.1)" fill="#7f7466"/>
<ellipse cx="1879.5" cy="773.0" rx="13.5" ry="5.1" transform="rotate(120 1879.5 773.0)" fill="#d9cebd"/>
<ellipse cx="1879.5" cy="773.0" rx="11.5" ry="2.9" transform="rotate(120 1879.5 773.0)" fill="#7f7466"/>
<polygon points="1774.5,791.1 1757.9,780.0 1775.8,771.1" fill="#d9cebd" stroke="#d9cebd" stroke-width="2.5" stroke-linejoin="round"/>
<polygon points="1772.9,787.9 1761.4,780.2 1773.8,774.1" fill="#7f7466" stroke="#7f7466" stroke-width="1.5" stroke-linejoin="round"/>
<circle cx="1769.4" cy="780.8" r="1.6" fill="#968b7c"/>
<ellipse cx="1786.5" cy="785.4" rx="8.2" ry="7.1" transform="rotate(110 1786.5 785.4)" fill="#d9cebd"/>
<ellipse cx="1786.5" cy="785.4" rx="5.8" ry="4.7" transform="rotate(110 1786.5 785.4)" fill="#7f7466"/>
<circle cx="1786.5" cy="785.4" r="1.7" fill="#968b7c"/>
<ellipse cx="1724.5" cy="793.1" rx="8.8" ry="7.7" transform="rotate(150 1724.5 793.1)" fill="#d9cebd"/>
<ellipse cx="1724.5" cy="793.1" rx="6.4" ry="5.3" transform="rotate(150 1724.5 793.1)" fill="#7f7466"/>
<circle cx="1724.5" cy="793.1" r="1.7" fill="#968b7c"/>
<ellipse cx="1817.5" cy="796.2" rx="8.5" ry="7.4" transform="rotate(153 1817.5 796.2)" fill="#d9cebd"/>
<ellipse cx="1817.5" cy="796.2" rx="6.1" ry="5.0" transform="rotate(153 1817.5 796.2)" fill="#7f7466"/>
<circle cx="1817.5" cy="796.2" r="1.7" fill="#968b7c"/>
<ellipse cx="1833.0" cy="790.0" rx="8.3" ry="6.7" transform="rotate(133 1833.0 790.0)" fill="#d9cebd"/>
<ellipse cx="1833.0" cy="790.0" rx="5.9" ry="4.3" transform="rotate(133 1833.0 790.0)" fill="#7f7466"/>
<circle cx="1833.0" cy="790.0" r="1.7" fill="#968b7c"/>
<ellipse cx="1896.5" cy="797.8" rx="7.7" ry="7.8" transform="rotate(36 1896.5 797.8)" fill="#d9cebd"/>
<ellipse cx="1896.5" cy="797.8" rx="5.3" ry="5.4" transform="rotate(36 1896.5 797.8)" fill="#7f7466"/>
<circle cx="1896.5" cy="797.8" r="1.7" fill="#968b7c"/>
<ellipse cx="1603.5" cy="762.1" rx="7.6" ry="7.3" transform="rotate(137 1603.5 762.1)" fill="#d9cebd"/>
<ellipse cx="1603.5" cy="762.1" rx="5.2" ry="4.9" transform="rotate(137 1603.5 762.1)" fill="#7f7466"/>
<circle cx="1603.5" cy="762.1" r="1.7" fill="#968b7c"/>
<ellipse cx="1617.5" cy="793.1" rx="12.3" ry="5.5" transform="rotate(112 1617.5 793.1)" fill="#d9cebd"/>
<ellipse cx="1617.5" cy="793.1" rx="10.3" ry="3.3" transform="rotate(112 1617.5 793.1)" fill="#7f7466"/>
<ellipse cx="1660.9" cy="793.1" rx="7.9" ry="7.1" transform="rotate(28 1660.9 793.1)" fill="#d9cebd"/>
<ellipse cx="1660.9" cy="793.1" rx="5.5" ry="4.7" transform="rotate(28 1660.9 793.1)" fill="#7f7466"/>
<circle cx="1660.9" cy="793.1" r="1.7" fill="#968b7c"/>
<ellipse cx="1676.4" cy="796.2" rx="7.9" ry="7.0" transform="rotate(158 1676.4 796.2)" fill="#d9cebd"/>
<ellipse cx="1676.4" cy="796.2" rx="5.5" ry="4.6" transform="rotate(158 1676.4 796.2)" fill="#7f7466"/>
<circle cx="1676.4" cy="796.2" r="1.7" fill="#968b7c"/>
<ellipse cx="1580.3" cy="804.0" rx="8.1" ry="6.9" transform="rotate(29 1580.3 804.0)" fill="#d9cebd"/>
<ellipse cx="1580.3" cy="804.0" rx="5.7" ry="4.5" transform="rotate(29 1580.3 804.0)" fill="#7f7466"/>
<circle cx="1580.3" cy="804.0" r="1.7" fill="#968b7c"/>
<ellipse cx="1626.8" cy="808.6" rx="9.3" ry="7.1" transform="rotate(6 1626.8 808.6)" fill="#d9cebd"/>
<ellipse cx="1626.8" cy="808.6" rx="6.9" ry="4.7" transform="rotate(6 1626.8 808.6)" fill="#7f7466"/>
<circle cx="1626.8" cy="808.6" r="1.7" fill="#968b7c"/>
<ellipse cx="1671.8" cy="811.8" rx="13.0" ry="5.5" transform="rotate(124 1671.8 811.8)" fill="#d9cebd"/>
<ellipse cx="1671.8" cy="811.8" rx="11.0" ry="3.3" transform="rotate(124 1671.8 811.8)" fill="#7f7466"/>
<ellipse cx="1575.7" cy="819.5" rx="13.0" ry="5.3" transform="rotate(21 1575.7 819.5)" fill="#d9cebd"/>
<ellipse cx="1575.7" cy="819.5" rx="11.0" ry="3.1" transform="rotate(21 1575.7 819.5)" fill="#7f7466"/>
<polygon points="1603.8,828.1 1607.6,808.7 1622.5,821.7" fill="#d9cebd" stroke="#d9cebd" stroke-width="2.5" stroke-linejoin="round"/>
<polygon points="1606.1,825.4 1608.8,812.1 1619.0,821.0" fill="#7f7466" stroke="#7f7466" stroke-width="1.5" stroke-linejoin="round"/>
<circle cx="1611.3" cy="819.5" r="1.6" fill="#968b7c"/>
<ellipse cx="1571.0" cy="842.8" rx="8.0" ry="6.7" transform="rotate(4 1571.0 842.8)" fill="#d9cebd"/>
<ellipse cx="1571.0" cy="842.8" rx="5.6" ry="4.3" transform="rotate(4 1571.0 842.8)" fill="#7f7466"/>
<circle cx="1571.0" cy="842.8" r="1.7" fill="#968b7c"/>
<ellipse cx="1600.5" cy="835.0" rx="8.3" ry="7.0" transform="rotate(175 1600.5 835.0)" fill="#d9cebd"/>
<ellipse cx="1600.5" cy="835.0" rx="5.9" ry="4.6" transform="rotate(175 1600.5 835.0)" fill="#7f7466"/>
<circle cx="1600.5" cy="835.0" r="1.7" fill="#968b7c"/>
<ellipse cx="1771.0" cy="818.0" rx="8.9" ry="7.6" transform="rotate(51 1771.0 818.0)" fill="#d9cebd"/>
<ellipse cx="1771.0" cy="818.0" rx="6.5" ry="5.2" transform="rotate(51 1771.0 818.0)" fill="#7f7466"/>
<circle cx="1771.0" cy="818.0" r="1.7" fill="#968b7c"/>
<ellipse cx="1887.2" cy="827.2" rx="8.8" ry="7.9" transform="rotate(43 1887.2 827.2)" fill="#d9cebd"/>
<ellipse cx="1887.2" cy="827.2" rx="6.4" ry="5.5" transform="rotate(43 1887.2 827.2)" fill="#7f7466"/>
<circle cx="1887.2" cy="827.2" r="1.7" fill="#968b7c"/>
<polygon points="1902.4,836.9 1887.2,820.2 1909.2,815.3" fill="#d9cebd" stroke="#d9cebd" stroke-width="2.5" stroke-linejoin="round"/>
<polygon points="1901.6,833.4 1890.6,821.3 1906.6,817.8" fill="#7f7466" stroke="#7f7466" stroke-width="1.5" stroke-linejoin="round"/>
<circle cx="1899.6" cy="824.1" r="1.6" fill="#968b7c"/>
<ellipse cx="1912.0" cy="838.1" rx="9.0" ry="7.2" transform="rotate(11 1912.0 838.1)" fill="#d9cebd"/>
<ellipse cx="1912.0" cy="838.1" rx="6.6" ry="4.8" transform="rotate(11 1912.0 838.1)" fill="#7f7466"/>
<circle cx="1912.0" cy="838.1" r="1.7" fill="#968b7c"/>
<ellipse cx="1774.0" cy="853.6" rx="9.4" ry="7.3" transform="rotate(99 1774.0 853.6)" fill="#d9cebd"/>
<ellipse cx="1774.0" cy="853.6" rx="7.0" ry="4.9" transform="rotate(99 1774.0 853.6)" fill="#7f7466"/>
<circle cx="1774.0" cy="853.6" r="1.7" fill="#968b7c"/>
<ellipse cx="1688.8" cy="862.9" rx="7.7" ry="7.9" transform="rotate(17 1688.8 862.9)" fill="#d9cebd"/>
<ellipse cx="1688.8" cy="862.9" rx="5.3" ry="5.5" transform="rotate(17 1688.8 862.9)" fill="#7f7466"/>
<circle cx="1688.8" cy="862.9" r="1.7" fill="#968b7c"/>
<ellipse cx="1757.0" cy="867.5" rx="7.7" ry="6.9" transform="rotate(168 1757.0 867.5)" fill="#d9cebd"/>
<ellipse cx="1757.0" cy="867.5" rx="5.3" ry="4.5" transform="rotate(168 1757.0 867.5)" fill="#7f7466"/>
<circle cx="1757.0" cy="867.5" r="1.7" fill="#968b7c"/>
<ellipse cx="1803.5" cy="859.8" rx="7.7" ry="7.0" transform="rotate(72 1803.5 859.8)" fill="#d9cebd"/>
<ellipse cx="1803.5" cy="859.8" rx="5.3" ry="4.6" transform="rotate(72 1803.5 859.8)" fill="#7f7466"/>
<circle cx="1803.5" cy="859.8" r="1.7" fill="#968b7c"/>
<ellipse cx="1842.2" cy="853.6" rx="7.7" ry="6.7" transform="rotate(55 1842.2 853.6)" fill="#d9cebd"/>
<ellipse cx="1842.2" cy="853.6" rx="5.3" ry="4.3" transform="rotate(55 1842.2 853.6)" fill="#7f7466"/>
<circle cx="1842.2" cy="853.6" r="1.7" fill="#968b7c"/>
<ellipse cx="1877.9" cy="867.5" rx="12.5" ry="5.4" transform="rotate(32 1877.9 867.5)" fill="#d9cebd"/>
<ellipse cx="1877.9" cy="867.5" rx="10.5" ry="3.2" transform="rotate(32 1877.9 867.5)" fill="#7f7466"/>
<ellipse cx="1916.7" cy="872.2" rx="8.2" ry="6.8" transform="rotate(15 1916.7 872.2)" fill="#d9cebd"/>
<ellipse cx="1916.7" cy="872.2" rx="5.8" ry="4.4" transform="rotate(15 1916.7 872.2)" fill="#7f7466"/>
<circle cx="1916.7" cy="872.2" r="1.7" fill="#968b7c"/>
<ellipse cx="1826.8" cy="883.0" rx="8.7" ry="7.8" transform="rotate(166 1826.8 883.0)" fill="#d9cebd"/>
<ellipse cx="1826.8" cy="883.0" rx="6.3" ry="5.4" transform="rotate(166 1826.8 883.0)" fill="#7f7466"/>
<circle cx="1826.8" cy="883.0" r="1.7" fill="#968b7c"/>
<ellipse cx="1879.5" cy="887.7" rx="8.6" ry="7.3" transform="rotate(3 1879.5 887.7)" fill="#d9cebd"/>
<ellipse cx="1879.5" cy="887.7" rx="6.2" ry="4.9" transform="rotate(3 1879.5 887.7)" fill="#7f7466"/>
<circle cx="1879.5" cy="887.7" r="1.7" fill="#968b7c"/>
<ellipse cx="1676.4" cy="887.1" rx="8.7" ry="7.6" transform="rotate(68 1676.4 887.1)" fill="#d9cebd"/>
<ellipse cx="1676.4" cy="887.1" rx="6.3" ry="5.2" transform="rotate(68 1676.4 887.1)" fill="#7f7466"/>
<circle cx="1676.4" cy="887.1" r="1.7" fill="#968b7c"/>
<ellipse cx="1626.8" cy="900.1" rx="12.3" ry="5.8" transform="rotate(55 1626.8 900.1)" fill="#d9cebd"/>
<ellipse cx="1626.8" cy="900.1" rx="10.3" ry="3.6" transform="rotate(55 1626.8 900.1)" fill="#7f7466"/>
<ellipse cx="1566.3" cy="907.9" rx="8.2" ry="6.7" transform="rotate(21 1566.3 907.9)" fill="#d9cebd"/>
<ellipse cx="1566.3" cy="907.9" rx="5.8" ry="4.3" transform="rotate(21 1566.3 907.9)" fill="#7f7466"/>
<circle cx="1566.3" cy="907.9" r="1.7" fill="#968b7c"/>
<polygon points="1699.1,914.2 1708.4,896.1 1719.4,913.3" fill="#d9cebd" stroke="#d9cebd" stroke-width="2.5" stroke-linejoin="round"/>
<polygon points="1702.1,912.2 1708.6,899.7 1716.2,911.6" fill="#7f7466" stroke="#7f7466" stroke-width="1.5" stroke-linejoin="round"/>
<circle cx="1709.0" cy="907.9" r="1.6" fill="#968b7c"/>
<ellipse cx="1746.2" cy="901.6" rx="8.0" ry="6.7" transform="rotate(15 1746.2 901.6)" fill="#d9cebd"/>
<ellipse cx="1746.2" cy="901.6" rx="5.6" ry="4.3" transform="rotate(15 1746.2 901.6)" fill="#7f7466"/>
<circle cx="1746.2" cy="901.6" r="1.7" fill="#968b7c"/>
<ellipse cx="1774.0" cy="898.5" rx="8.0" ry="6.7" transform="rotate(104 1774.0 898.5)" fill="#d9cebd"/>
<ellipse cx="1774.0" cy="898.5" rx="5.6" ry="4.3" transform="rotate(104 1774.0 898.5)" fill="#7f7466"/>
<circle cx="1774.0" cy="898.5" r="1.7" fill="#968b7c"/>
<polygon points="1785.4,922.0 1766.9,929.2 1769.9,909.5" fill="#d9cebd" stroke="#d9cebd" stroke-width="2.5" stroke-linejoin="round"/>
<polygon points="1781.9,921.4 1769.1,926.4 1771.2,912.9" fill="#7f7466" stroke="#7f7466" stroke-width="1.5" stroke-linejoin="round"/>
<circle cx="1774.0" cy="920.2" r="1.6" fill="#968b7c"/>
<ellipse cx="1812.8" cy="915.6" rx="7.8" ry="7.2" transform="rotate(67 1812.8 915.6)" fill="#d9cebd"/>
<ellipse cx="1812.8" cy="915.6" rx="5.4" ry="4.8" transform="rotate(67 1812.8 915.6)" fill="#7f7466"/>
<circle cx="1812.8" cy="915.6" r="1.7" fill="#968b7c"/>
<ellipse cx="1846.9" cy="912.5" rx="8.6" ry="7.9" transform="rotate(135 1846.9 912.5)" fill="#d9cebd"/>
<ellipse cx="1846.9" cy="912.5" rx="6.2" ry="5.5" transform="rotate(135 1846.9 912.5)" fill="#7f7466"/>
<circle cx="1846.9" cy="912.5" r="1.7" fill="#968b7c"/>
<polygon points="1851.9,919.3 1858.0,899.0 1872.6,914.5" fill="#d9cebd" stroke="#d9cebd" stroke-width="2.5" stroke-linejoin="round"/>
<polygon points="1854.6,916.9 1858.9,902.5 1869.1,913.4" fill="#7f7466" stroke="#7f7466" stroke-width="1.5" stroke-linejoin="round"/>
<circle cx="1860.8" cy="911.0" r="1.6" fill="#968b7c"/>
<ellipse cx="1665.5" cy="926.5" rx="8.8" ry="7.9" transform="rotate(147 1665.5 926.5)" fill="#d9cebd"/>
<ellipse cx="1665.5" cy="926.5" rx="6.4" ry="5.5" transform="rotate(147 1665.5 926.5)" fill="#7f7466"/>
<circle cx="1665.5" cy="926.5" r="1.7" fill="#968b7c"/>
<polygon points="1674.2,943.6 1676.4,923.6 1692.6,935.5" fill="#d9cebd" stroke="#d9cebd" stroke-width="2.5" stroke-linejoin="round"/>
<polygon points="1676.3,940.7 1677.8,926.8 1689.0,935.1" fill="#7f7466" stroke="#7f7466" stroke-width="1.5" stroke-linejoin="round"/>
<circle cx="1681.0" cy="934.2" r="1.6" fill="#968b7c"/>
<ellipse cx="1699.7" cy="932.6" rx="11.4" ry="5.1" transform="rotate(69 1699.7 932.6)" fill="#d9cebd"/>
<ellipse cx="1699.7" cy="932.6" rx="9.4" ry="2.9" transform="rotate(69 1699.7 932.6)" fill="#7f7466"/>
<ellipse cx="1746.2" cy="928.0" rx="8.8" ry="7.0" transform="rotate(47 1746.2 928.0)" fill="#d9cebd"/>
<ellipse cx="1746.2" cy="928.0" rx="6.4" ry="4.6" transform="rotate(47 1746.2 928.0)" fill="#7f7466"/>
<circle cx="1746.2" cy="928.0" r="1.7" fill="#968b7c"/>
<ellipse cx="1626.8" cy="937.3" rx="8.6" ry="6.6" transform="rotate(137 1626.8 937.3)" fill="#d9cebd"/>
<ellipse cx="1626.8" cy="937.3" rx="6.2" ry="4.2" transform="rotate(137 1626.8 937.3)" fill="#7f7466"/>
<circle cx="1626.8" cy="937.3" r="1.7" fill="#968b7c"/>
<ellipse cx="1777.2" cy="938.9" rx="8.2" ry="7.8" transform="rotate(23 1777.2 938.9)" fill="#d9cebd"/>
<ellipse cx="1777.2" cy="938.9" rx="5.8" ry="5.4" transform="rotate(23 1777.2 938.9)" fill="#7f7466"/>
<circle cx="1777.2" cy="938.9" r="1.7" fill="#968b7c"/>
<ellipse cx="1879.5" cy="932.6" rx="11.7" ry="5.4" transform="rotate(110 1879.5 932.6)" fill="#d9cebd"/>
<ellipse cx="1879.5" cy="932.6" rx="9.7" ry="3.2" transform="rotate(110 1879.5 932.6)" fill="#7f7466"/>
<ellipse cx="1896.5" cy="945.0" rx="7.6" ry="7.4" transform="rotate(59 1896.5 945.0)" fill="#d9cebd"/>
<ellipse cx="1896.5" cy="945.0" rx="5.2" ry="5.0" transform="rotate(59 1896.5 945.0)" fill="#7f7466"/>
<circle cx="1896.5" cy="945.0" r="1.7" fill="#968b7c"/>
<ellipse cx="1589.6" cy="949.7" rx="11.3" ry="5.5" transform="rotate(131 1589.6 949.7)" fill="#d9cebd"/>
<ellipse cx="1589.6" cy="949.7" rx="9.3" ry="3.3" transform="rotate(131 1589.6 949.7)" fill="#7f7466"/>
<ellipse cx="1738.4" cy="949.7" rx="8.4" ry="7.9" transform="rotate(128 1738.4 949.7)" fill="#d9cebd"/>
<ellipse cx="1738.4" cy="949.7" rx="6.0" ry="5.5" transform="rotate(128 1738.4 949.7)" fill="#7f7466"/>
<circle cx="1738.4" cy="949.7" r="1.7" fill="#968b7c"/>
<polygon points="1839.2,954.0 1819.1,957.0 1826.5,938.1" fill="#d9cebd" stroke="#d9cebd" stroke-width="2.5" stroke-linejoin="round"/>
<polygon points="1835.9,952.7 1822.0,954.8 1827.1,941.7" fill="#7f7466" stroke="#7f7466" stroke-width="1.5" stroke-linejoin="round"/>
<circle cx="1828.3" cy="949.7" r="1.6" fill="#968b7c"/>
<ellipse cx="1682.6" cy="957.5" rx="12.3" ry="5.4" transform="rotate(83 1682.6 957.5)" fill="#d9cebd"/>
<ellipse cx="1682.6" cy="957.5" rx="10.3" ry="3.2" transform="rotate(83 1682.6 957.5)" fill="#7f7466"/>
<polygon points="1783.8,959.9 1799.6,945.9 1803.8,966.6" fill="#d9cebd" stroke="#d9cebd" stroke-width="2.5" stroke-linejoin="round"/>
<polygon points="1787.4,959.2 1798.5,949.3 1801.4,963.9" fill="#7f7466" stroke="#7f7466" stroke-width="1.5" stroke-linejoin="round"/>
<circle cx="1795.8" cy="957.5" r="1.6" fill="#968b7c"/>
<ellipse cx="1718.2" cy="965.2" rx="11.3" ry="5.8" transform="rotate(107 1718.2 965.2)" fill="#d9cebd"/>
<ellipse cx="1718.2" cy="965.2" rx="9.3" ry="3.6" transform="rotate(107 1718.2 965.2)" fill="#7f7466"/>
<ellipse cx="1775.6" cy="968.3" rx="9.4" ry="6.6" transform="rotate(9 1775.6 968.3)" fill="#d9cebd"/>
<ellipse cx="1775.6" cy="968.3" rx="7.0" ry="4.2" transform="rotate(9 1775.6 968.3)" fill="#7f7466"/>
<circle cx="1775.6" cy="968.3" r="1.7" fill="#968b7c"/>
<ellipse cx="1735.3" cy="976.0" rx="9.2" ry="7.1" transform="rotate(87 1735.3 976.0)" fill="#d9cebd"/>
<ellipse cx="1735.3" cy="976.0" rx="6.8" ry="4.7" transform="rotate(87 1735.3 976.0)" fill="#7f7466"/>
<circle cx="1735.3" cy="976.0" r="1.7" fill="#968b7c"/>
<ellipse cx="1870.2" cy="969.9" rx="8.0" ry="7.4" transform="rotate(50 1870.2 969.9)" fill="#d9cebd"/>
<ellipse cx="1870.2" cy="969.9" rx="5.6" ry="5.0" transform="rotate(50 1870.2 969.9)" fill="#7f7466"/>
<circle cx="1870.2" cy="969.9" r="1.7" fill="#968b7c"/>
<ellipse cx="1606.7" cy="979.1" rx="8.0" ry="7.1" transform="rotate(135 1606.7 979.1)" fill="#d9cebd"/>
<ellipse cx="1606.7" cy="979.1" rx="5.6" ry="4.7" transform="rotate(135 1606.7 979.1)" fill="#7f7466"/>
<circle cx="1606.7" cy="979.1" r="1.7" fill="#968b7c"/>
<ellipse cx="1629.9" cy="985.4" rx="9.1" ry="7.8" transform="rotate(177 1629.9 985.4)" fill="#d9cebd"/>
<ellipse cx="1629.9" cy="985.4" rx="6.7" ry="5.4" transform="rotate(177 1629.9 985.4)" fill="#7f7466"/>
<circle cx="1629.9" cy="985.4" r="1.7" fill="#968b7c"/>
<polygon points="1757.4,1000.8 1742.8,987.6 1761.5,981.6" fill="#d9cebd" stroke="#d9cebd" stroke-width="2.5" stroke-linejoin="round"/>
<polygon points="1756.3,997.4 1746.3,988.4 1759.1,984.2" fill="#7f7466" stroke="#7f7466" stroke-width="1.5" stroke-linejoin="round"/>
<circle cx="1753.9" cy="990.0" r="1.6" fill="#968b7c"/>
<ellipse cx="1691.9" cy="1008.6" rx="11.1" ry="5.2" transform="rotate(88 1691.9 1008.6)" fill="#d9cebd"/>
<ellipse cx="1691.9" cy="1008.6" rx="9.1" ry="3.0" transform="rotate(88 1691.9 1008.6)" fill="#7f7466"/>
<ellipse cx="1715.2" cy="1011.7" rx="9.2" ry="6.9" transform="rotate(129 1715.2 1011.7)" fill="#d9cebd"/>
<ellipse cx="1715.2" cy="1011.7" rx="6.8" ry="4.5" transform="rotate(129 1715.2 1011.7)" fill="#7f7466"/>
<circle cx="1715.2" cy="1011.7" r="1.7" fill="#968b7c"/>
<polygon points="1788.3,1020.8 1769.3,1010.5 1787.7,999.2" fill="#d9cebd" stroke="#d9cebd" stroke-width="2.5" stroke-linejoin="round"/>
<polygon points="1786.5,1017.7 1772.9,1010.4 1786.0,1002.3" fill="#7f7466" stroke="#7f7466" stroke-width="1.5" stroke-linejoin="round"/>
<circle cx="1781.8" cy="1010.1" r="1.6" fill="#968b7c"/>
<ellipse cx="1650.0" cy="1016.4" rx="13.4" ry="5.4" transform="rotate(112 1650.0 1016.4)" fill="#d9cebd"/>
<ellipse cx="1650.0" cy="1016.4" rx="11.4" ry="3.2" transform="rotate(112 1650.0 1016.4)" fill="#7f7466"/>
<ellipse cx="1670.2" cy="1024.1" rx="8.7" ry="6.9" transform="rotate(92 1670.2 1024.1)" fill="#d9cebd"/>
<ellipse cx="1670.2" cy="1024.1" rx="6.3" ry="4.5" transform="rotate(92 1670.2 1024.1)" fill="#7f7466"/>
<circle cx="1670.2" cy="1024.1" r="1.7" fill="#968b7c"/>
<ellipse cx="1736.8" cy="1025.7" rx="7.6" ry="7.0" transform="rotate(57 1736.8 1025.7)" fill="#d9cebd"/>
<ellipse cx="1736.8" cy="1025.7" rx="5.2" ry="4.6" transform="rotate(57 1736.8 1025.7)" fill="#7f7466"/>
<circle cx="1736.8" cy="1025.7" r="1.7" fill="#968b7c"/>
<ellipse cx="1767.8" cy="1022.5" rx="8.9" ry="7.2" transform="rotate(86 1767.8 1022.5)" fill="#d9cebd"/>
<ellipse cx="1767.8" cy="1022.5" rx="6.5" ry="4.8" transform="rotate(86 1767.8 1022.5)" fill="#7f7466"/>
<circle cx="1767.8" cy="1022.5" r="1.7" fill="#968b7c"/>
<ellipse cx="1753.9" cy="1036.5" rx="13.8" ry="5.7" transform="rotate(147 1753.9 1036.5)" fill="#d9cebd"/>
<ellipse cx="1753.9" cy="1036.5" rx="11.8" ry="3.5" transform="rotate(147 1753.9 1036.5)" fill="#7f7466"/>
<polygon points="1843.9,1025.9 1835.2,1005.7 1857.0,1008.2" fill="#d9cebd" stroke="#d9cebd" stroke-width="2.5" stroke-linejoin="round"/>
<polygon points="1844.3,1022.3 1838.0,1007.8 1853.7,1009.6" fill="#7f7466" stroke="#7f7466" stroke-width="1.5" stroke-linejoin="round"/>
<circle cx="1845.3" cy="1013.2" r="1.6" fill="#968b7c"/>
</g></g>
<g font-family="Liberation Serif, serif" fill="#111" font-size="31.9">
<text x="1014.9" y="1083.9" text-anchor="middle">Untreated</text>
<text x="1387.7" y="1084" text-anchor="middle" font-size="32.6">37.5 μg/mL AgNPs</text>
<text x="1770.1" y="1081.6" text-anchor="middle" xml:space="preserve" font-size="32.4">75  μg/mL AgNPs</text>
<g font-weight="bold" font-size="32">
<text x="1420.3" y="1187.7" text-anchor="middle">MTT cytotoxicity of AgNPs on</text>
<text x="1424.3" y="1224.3" text-anchor="middle">L929 Fibroblast cells</text>
</g></g>
</g>
</svg>
</body></html>
